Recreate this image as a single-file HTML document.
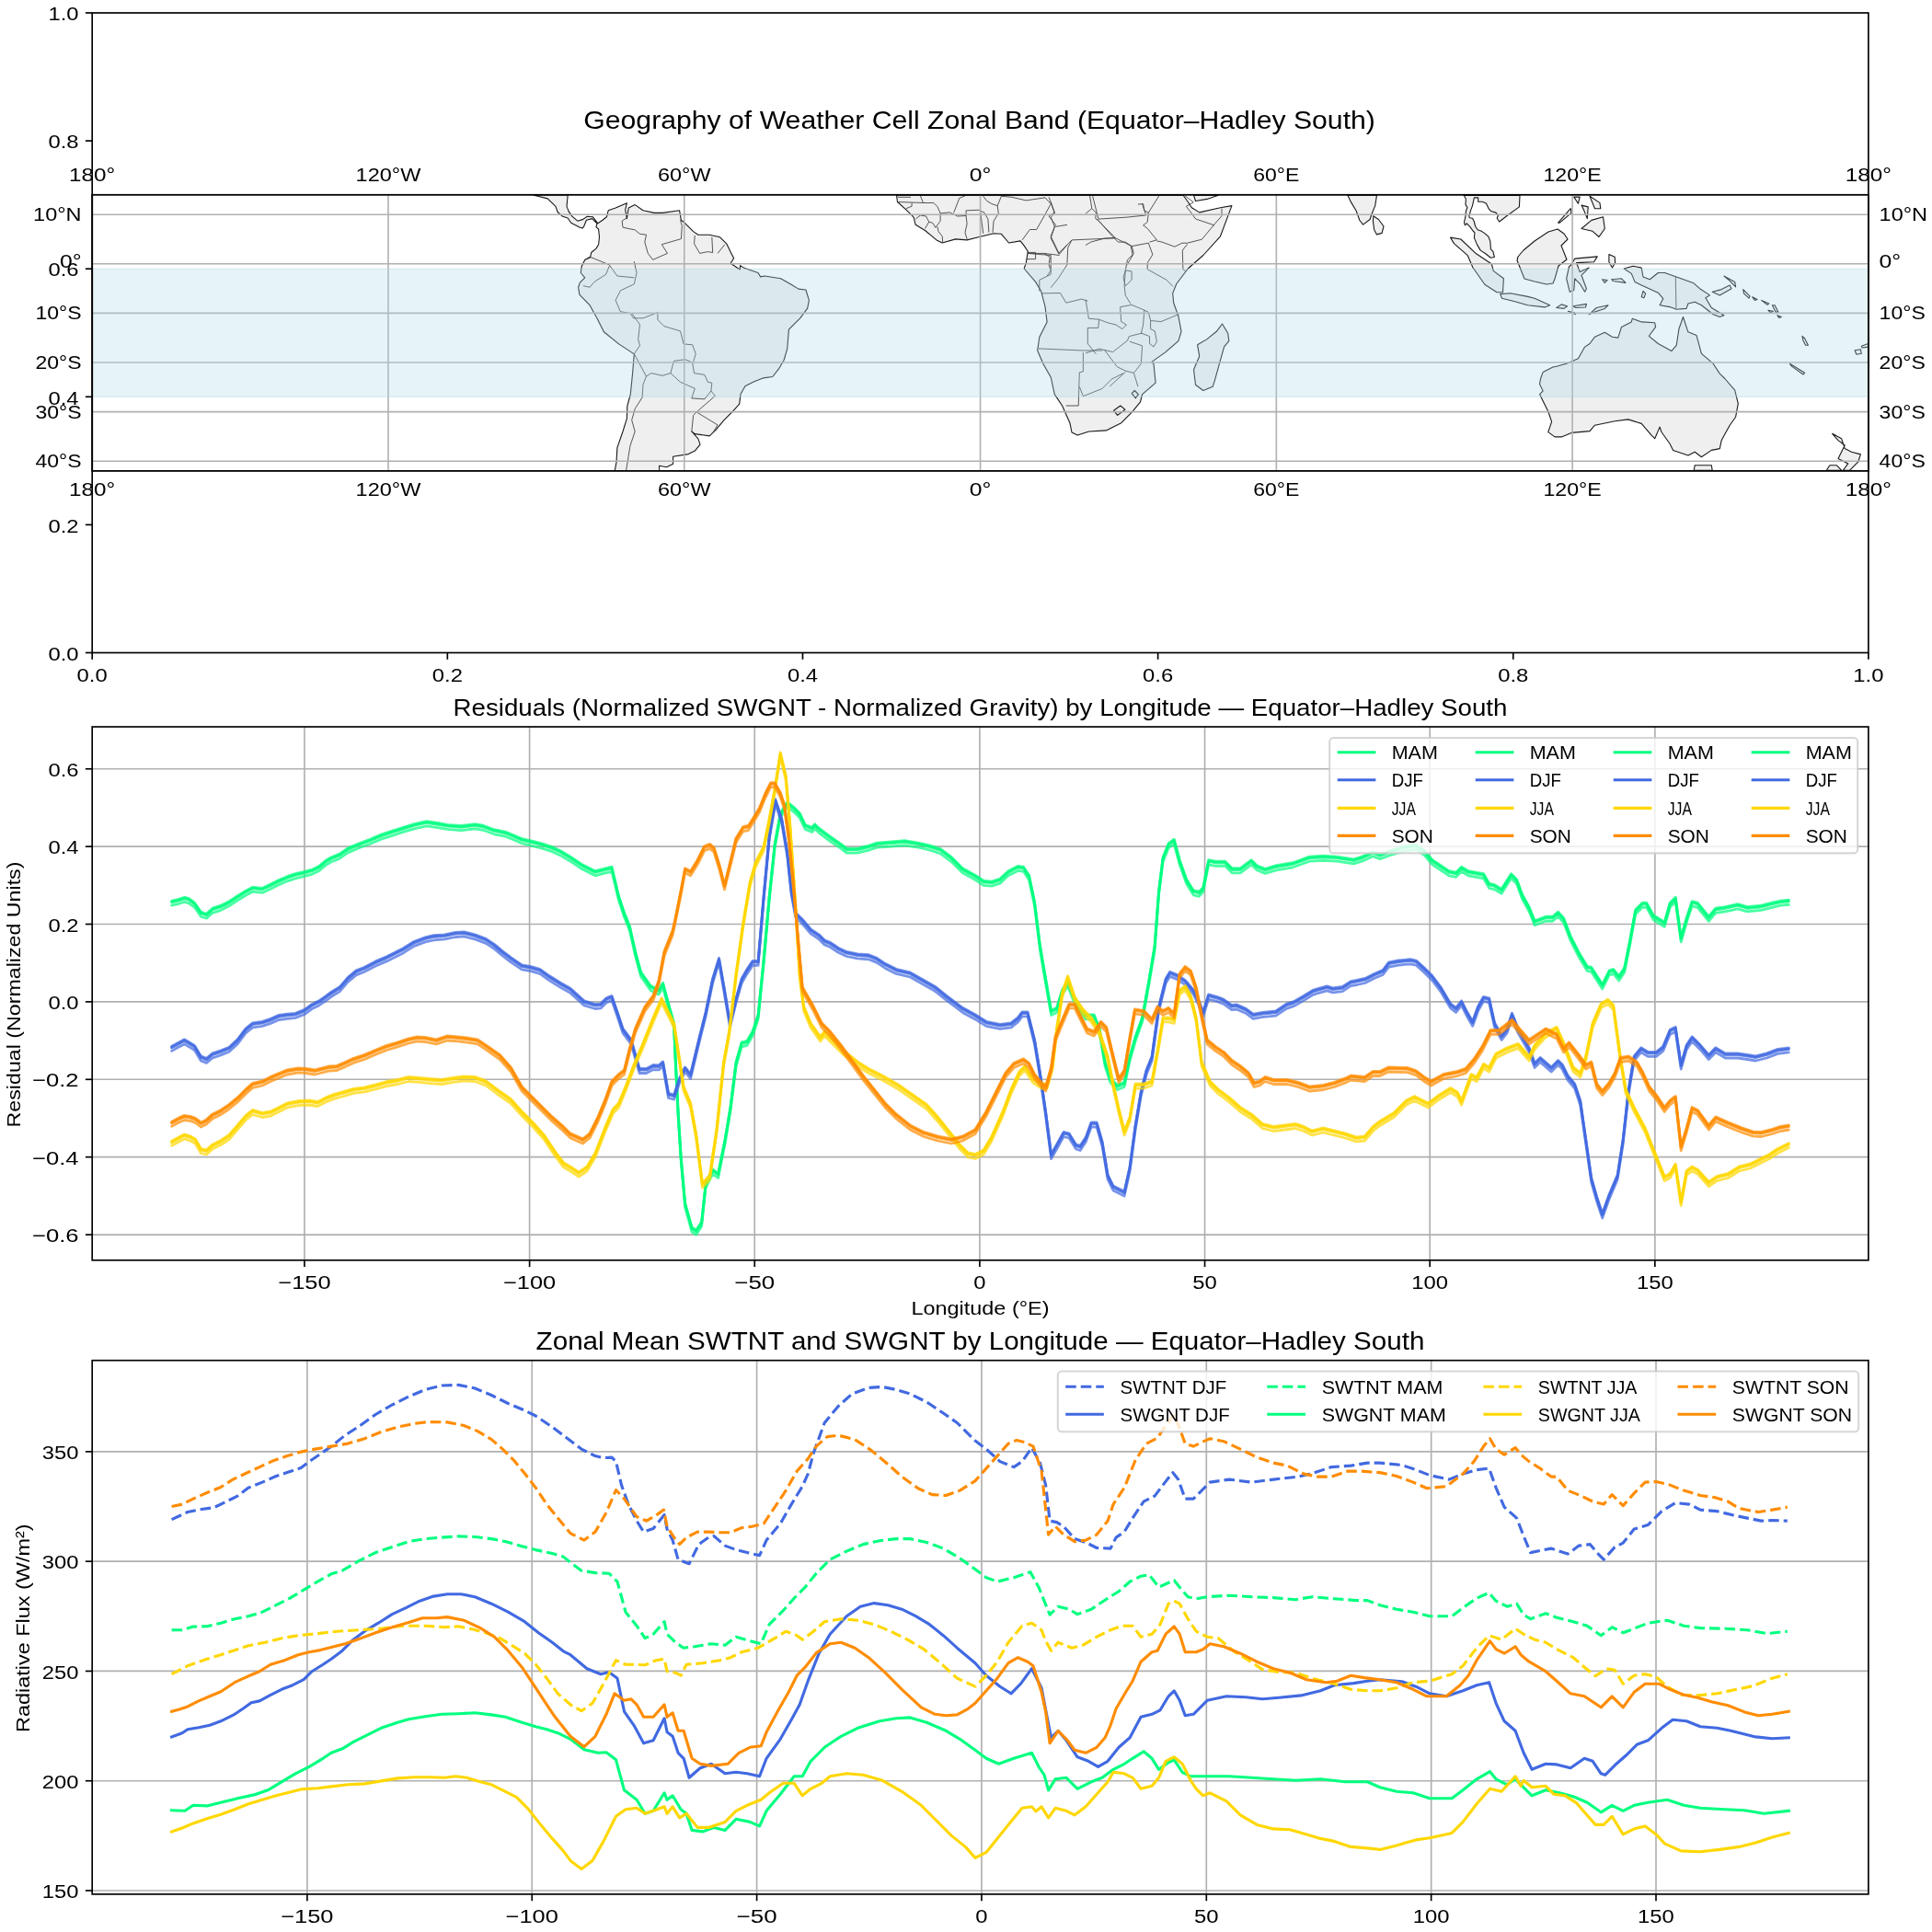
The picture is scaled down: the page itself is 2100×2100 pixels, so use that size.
<!DOCTYPE html><html><head><meta charset="utf-8"><title>Weather Cell Zonal Band</title><style>html,body{margin:0;padding:0;background:#fff;}svg{display:block;will-change:transform;}text{font-family:"Liberation Sans",sans-serif;fill:#000;}</style></head><body>
<svg width="2100" height="2100" viewBox="0 0 2100 2100">
<rect x="0" y="0" width="2100" height="2100" fill="#fff"/>
<defs><clipPath id="mapclip"><rect x="100.2" y="211.8" width="1930.7" height="300.09999999999997"/></clipPath></defs>
<g clip-path="url(#mapclip)">
<polygon points="579.4,212.0 595.2,215.9 604.0,224.4 606.1,230.5 611.0,234.9 617.2,237.0 620.7,242.3 630.4,247.2 633.0,248.1 634.8,245.8 637.4,239.3 643.6,237.6 648.9,242.8 648.0,246.9 650.6,249.0 651.5,257.8 650.6,265.7 648.0,270.1 642.7,274.5 641.8,278.9 635.7,282.4 632.2,289.5 631.3,296.5 635.7,301.8 630.4,307.1 628.6,312.3 630.0,320.3 641.0,331.7 648.9,345.8 656.4,360.7 672.6,373.9 689.3,384.9 687.6,405.6 685.3,428.5 681.8,441.7 681.4,454.9 677.0,469.0 670.9,486.6 670.0,502.4 668.2,512.1 716.6,512.1 716.6,506.3 724.5,507.7 731.6,504.2 731.6,496.3 748.3,493.6 755.3,490.1 761.0,483.1 758.9,476.9 751.8,469.0 755.3,471.6 771.2,473.9 778.2,467.2 787.0,456.7 795.8,447.9 803.7,439.1 805.0,428.5 809.9,419.7 818.7,415.3 829.3,410.9 839.8,409.5 846.9,400.3 852.1,391.5 855.7,379.2 857.4,358.1 869.7,345.8 877.7,335.2 879.4,326.4 875.9,315.0 868.0,314.1 859.2,308.8 848.6,302.7 831.0,300.0 826.6,300.9 824.0,296.5 808.1,290.9 804.6,288.6 804.3,293.0 794.1,286.3 797.6,280.7 794.9,275.4 789.7,264.8 782.6,257.8 771.2,255.2 758.9,255.2 753.6,251.6 744.8,242.8 740.4,239.3 738.6,228.8 720.1,231.4 711.3,231.4 699.0,228.8 690.2,222.6 683.2,226.1 681.4,237.6 679.7,227.9 681.4,220.8 669.1,226.1 661.2,228.8 659.4,235.8 655.0,239.3 649.8,242.8 644.5,235.8 638.3,235.3 633.9,238.4 627.8,240.2 621.6,234.9 618.1,229.6 616.0,224.4 617.2,212.0" fill="#efefef" stroke="#1a1a1a" stroke-width="1.1" stroke-linejoin="round"/>
<polygon points="974.5,212.2 975.5,219.5 984.8,227.8 993.1,236.1 995.2,244.3 1005.5,250.5 1018.0,260.9 1024.2,264.0 1038.7,259.9 1051.1,260.9 1063.5,257.8 1080.1,253.7 1088.4,254.3 1096.6,264.0 1109.1,261.9 1113.2,267.1 1117.3,273.3 1115.3,285.7 1113.2,292.0 1125.6,306.4 1131.8,316.8 1136.0,333.4 1138.1,349.9 1129.8,366.5 1127.7,381.0 1133.9,395.5 1142.2,410.0 1146.3,428.6 1154.6,441.0 1162.9,459.7 1165.0,470.0 1171.2,473.1 1183.6,469.0 1202.2,467.9 1218.8,459.7 1231.2,447.2 1239.5,436.9 1241.6,428.6 1256.1,416.2 1254.0,395.5 1251.9,393.4 1266.4,383.1 1280.9,370.6 1284.0,360.3 1280.9,343.7 1275.7,329.2 1274.7,318.9 1278.8,308.5 1291.3,292.0 1307.8,277.5 1326.5,256.8 1338.9,223.6 1326.5,225.7 1303.7,230.9 1295.4,225.7 1291.3,219.5 1286.1,212.2" fill="#efefef" stroke="#1a1a1a" stroke-width="1.1" stroke-linejoin="round"/>
<polygon points="1297.5,212.2 1299.5,218.5 1312.0,216.4 1324.4,212.2" fill="#efefef" stroke="#1a1a1a" stroke-width="1.1" stroke-linejoin="round"/>
<polygon points="1328.5,352.0 1334.7,362.3 1335.8,370.6 1330.6,376.8 1320.2,414.1 1318.2,420.3 1307.8,424.5 1299.5,418.3 1297.5,401.7 1303.7,387.2 1301.6,374.8 1312.0,368.6 1322.3,360.3" fill="#efefef" stroke="#1a1a1a" stroke-width="1.1" stroke-linejoin="round"/>
<polygon points="1464.8,212.1 1468.6,219.9 1474.2,229.2 1477.9,239.5 1481.6,244.1 1489.1,238.5 1490.9,233.0 1494.7,223.6 1496.5,212.1" fill="#efefef" stroke="#1a1a1a" stroke-width="1.1" stroke-linejoin="round"/>
<polygon points="1492.8,234.8 1498.4,238.5 1504.0,246.0 1502.1,253.4 1496.5,254.9 1493.7,249.7 1492.4,240.4" fill="#efefef" stroke="#1a1a1a" stroke-width="1.1" stroke-linejoin="round"/>
<polygon points="1591.2,212.5 1593.4,216.2 1593.0,222.4 1594.9,225.5 1593.4,229.8 1593.0,234.8 1591.5,241.6 1592.4,244.8 1594.3,242.9 1598.0,246.6 1601.1,251.0 1603.0,252.8 1602.4,258.4 1605.5,265.9 1609.2,272.1 1614.8,275.8 1620.4,280.2 1624.4,279.5 1622.9,273.3 1620.4,270.8 1619.8,262.1 1617.9,257.2 1613.5,253.4 1609.8,251.0 1606.1,249.7 1603.6,246.0 1602.4,241.0 1600.5,237.3 1597.4,236.7 1596.8,234.8 1598.6,228.6 1600.5,223.6 1602.4,214.9 1606.7,214.9 1606.7,219.3 1611.1,219.3 1615.4,221.1 1618.5,227.4 1621.0,229.8 1626.0,231.1 1628.4,234.2 1627.2,237.3 1629.7,241.0 1638.4,234.2 1651.4,224.9 1652.0,212.5" fill="#efefef" stroke="#1a1a1a" stroke-width="1.1" stroke-linejoin="round"/>
<polygon points="1576.6,258.1 1587.8,260.0 1604.6,275.8 1621.4,287.0 1623.2,294.4 1634.4,302.8 1633.5,317.7 1627.0,317.7 1613.9,309.3 1600.9,290.7 1595.3,277.7 1580.4,264.6" fill="#efefef" stroke="#1a1a1a" stroke-width="1.1" stroke-linejoin="round"/>
<polygon points="1630.7,319.6 1641.9,318.7 1660.5,322.4 1668.0,324.3 1684.7,331.7 1679.1,333.9 1660.5,331.7 1647.5,328.0 1632.5,324.3" fill="#efefef" stroke="#1a1a1a" stroke-width="1.1" stroke-linejoin="round"/>
<polygon points="1650.0,279.0 1656.0,272.0 1668.0,262.0 1683.0,252.0 1693.0,249.0 1700.0,254.0 1704.0,260.0 1697.0,267.0 1703.0,282.0 1694.0,289.0 1690.0,303.0 1688.0,308.0 1681.0,309.0 1668.0,306.0 1657.0,303.0 1653.0,293.0 1649.0,283.0" fill="#efefef" stroke="#1a1a1a" stroke-width="1.1" stroke-linejoin="round"/>
<polygon points="1690.0,398.8 1702.7,395.2 1715.4,389.8 1722.6,377.1 1728.0,373.5 1733.5,366.2 1744.3,361.2 1752.5,366.2 1758.8,367.1 1762.5,355.4 1773.3,349.9 1774.2,346.3 1784.2,349.9 1798.7,350.8 1799.6,355.4 1792.4,365.3 1802.3,373.5 1816.8,381.6 1822.2,375.3 1825.0,357.2 1829.5,344.5 1834.9,360.8 1844.0,364.4 1849.4,384.3 1862.1,395.2 1869.3,406.1 1874.8,411.5 1885.7,424.2 1889.3,438.7 1886.6,453.2 1880.2,462.2 1871.2,478.6 1869.3,487.6 1860.3,489.4 1849.4,496.7 1842.2,491.2 1834.9,494.9 1818.6,489.4 1815.0,482.2 1805.9,469.5 1804.1,464.1 1798.7,476.7 1795.1,473.1 1784.2,460.4 1769.7,455.9 1755.2,457.7 1733.5,462.2 1728.0,468.6 1708.1,470.4 1697.2,474.9 1690.0,474.9 1682.8,469.6 1686.6,458.4 1682.8,447.2 1677.2,436.0 1673.5,428.6 1677.2,424.9 1673.5,417.4 1674.5,411.8 1677.2,404.4 1688.4,398.8" fill="#efefef" stroke="#1a1a1a" stroke-width="1.1" stroke-linejoin="round"/>
<polygon points="1765.2,292.0 1775.1,289.2 1784.2,291.1 1786.0,301.0 1793.3,303.7 1802.3,296.5 1809.6,296.5 1822.2,301.0 1840.4,307.4 1847.6,313.7 1858.5,320.9 1853.9,323.7 1860.3,334.5 1873.9,342.7 1869.3,344.5 1862.1,341.8 1849.4,331.8 1842.2,328.2 1834.9,330.0 1833.1,335.4 1822.2,336.3 1815.0,333.6 1804.1,331.8 1807.8,324.6 1802.3,318.2 1784.2,310.1 1777.0,306.4 1773.3,297.4" fill="#efefef" stroke="#1a1a1a" stroke-width="1.1" stroke-linejoin="round"/>
<polygon points="1708.1,287.4 1711.7,281.1 1736.2,278.9 1732.6,284.7 1713.6,285.6 1717.2,295.6 1727.1,291.1 1719.0,299.2 1724.4,313.7 1722.6,317.3 1717.2,308.3 1711.7,302.8 1710.8,315.5 1706.3,317.3 1702.7,302.8 1705.4,290.1" fill="#efefef" stroke="#1a1a1a" stroke-width="1.1" stroke-linejoin="round"/>
<polygon points="1719.0,248.5 1729.9,239.4 1742.5,235.8 1744.3,248.5 1738.0,257.5 1730.8,251.2" fill="#efefef" stroke="#1a1a1a" stroke-width="1.1" stroke-linejoin="round"/>
<polygon points="1719.0,223.1 1726.2,224.9 1725.3,237.6 1721.7,228.6" fill="#efefef" stroke="#1a1a1a" stroke-width="1.1" stroke-linejoin="round"/>
<polygon points="1710.8,214.1 1717.2,214.1 1715.4,221.3" fill="#efefef" stroke="#1a1a1a" stroke-width="1.1" stroke-linejoin="round"/>
<polygon points="1728.0,213.2 1738.9,220.4 1739.8,226.7 1733.5,226.7" fill="#efefef" stroke="#1a1a1a" stroke-width="1.1" stroke-linejoin="round"/>
<polygon points="1693.6,242.1 1707.2,226.7 1708.1,231.3 1695.4,242.1" fill="#efefef" stroke="#1a1a1a" stroke-width="1.1" stroke-linejoin="round"/>
<polygon points="1748.9,276.6 1755.2,279.3 1755.6,285.6 1752.5,291.1 1748.9,284.7" fill="#efefef" stroke="#1a1a1a" stroke-width="1.1" stroke-linejoin="round"/>
<polygon points="1751.6,303.7 1762.5,302.8 1767.0,307.4 1753.4,305.5" fill="#efefef" stroke="#1a1a1a" stroke-width="1.1" stroke-linejoin="round"/>
<polygon points="1741.6,303.7 1747.1,304.6 1744.3,307.4" fill="#efefef" stroke="#1a1a1a" stroke-width="1.1" stroke-linejoin="round"/>
<polygon points="1727.1,341.8 1735.3,334.5 1748.0,331.8 1744.3,335.4 1733.5,339.1" fill="#efefef" stroke="#1a1a1a" stroke-width="1.1" stroke-linejoin="round"/>
<polygon points="1709.9,332.7 1724.4,330.4 1723.5,334.0 1712.6,334.5" fill="#efefef" stroke="#1a1a1a" stroke-width="1.1" stroke-linejoin="round"/>
<polygon points="1691.8,334.5 1697.2,330.9 1703.6,332.7 1700.0,335.4" fill="#efefef" stroke="#1a1a1a" stroke-width="1.1" stroke-linejoin="round"/>
<polygon points="1704.5,338.2 1711.7,340.0 1712.6,341.8" fill="#efefef" stroke="#1a1a1a" stroke-width="1.1" stroke-linejoin="round"/>
<polygon points="1784.2,322.8 1786.0,316.4 1788.7,319.1 1786.9,323.7" fill="#efefef" stroke="#1a1a1a" stroke-width="1.1" stroke-linejoin="round"/>
<polygon points="1873.9,300.1 1885.7,306.4 1886.6,311.9 1878.4,303.7" fill="#efefef" stroke="#1a1a1a" stroke-width="1.1" stroke-linejoin="round"/>
<polygon points="1861.2,317.3 1871.2,314.6 1880.2,310.1 1882.0,313.7 1869.3,320.9" fill="#efefef" stroke="#1a1a1a" stroke-width="1.1" stroke-linejoin="round"/>
<polygon points="1894.7,314.6 1902.0,321.8 1901.1,324.2 1895.6,319.1" fill="#efefef" stroke="#1a1a1a" stroke-width="1.1" stroke-linejoin="round"/>
<polygon points="1904.7,322.8 1910.1,325.5 1907.4,326.4" fill="#efefef" stroke="#1a1a1a" stroke-width="1.1" stroke-linejoin="round"/>
<polygon points="1914.6,326.4 1922.8,330.0 1921.0,331.4" fill="#efefef" stroke="#1a1a1a" stroke-width="1.1" stroke-linejoin="round"/>
<polygon points="1926.4,331.8 1929.1,331.8 1932.8,339.1 1930.0,339.1" fill="#efefef" stroke="#1a1a1a" stroke-width="1.1" stroke-linejoin="round"/>
<polygon points="1921.9,337.2 1927.3,338.2 1924.6,340.0" fill="#efefef" stroke="#1a1a1a" stroke-width="1.1" stroke-linejoin="round"/>
<polygon points="1931.8,342.7 1936.4,344.5 1933.7,345.4" fill="#efefef" stroke="#1a1a1a" stroke-width="1.1" stroke-linejoin="round"/>
<polygon points="1959.0,365.3 1961.7,368.0 1965.4,375.3 1962.6,375.3 1959.9,369.9" fill="#efefef" stroke="#1a1a1a" stroke-width="1.1" stroke-linejoin="round"/>
<polygon points="1945.4,395.2 1961.7,405.2 1959.9,407.0 1947.2,397.9" fill="#efefef" stroke="#1a1a1a" stroke-width="1.1" stroke-linejoin="round"/>
<polygon points="2016.1,380.7 2022.4,379.8 2023.3,384.3 2017.9,385.3" fill="#efefef" stroke="#1a1a1a" stroke-width="1.1" stroke-linejoin="round"/>
<polygon points="2023.3,376.2 2030.6,373.5 2030.6,377.1 2024.2,378.0" fill="#efefef" stroke="#1a1a1a" stroke-width="1.1" stroke-linejoin="round"/>
<polygon points="1991.6,471.3 2001.6,476.7 2005.2,487.6 2012.5,491.2 2022.4,493.9 2019.7,502.1 2016.1,505.7 2010.7,511.2 2003.4,511.2 2008.8,503.9 1998.0,498.5 2005.2,484.0 1998.0,478.6" fill="#efefef" stroke="#1a1a1a" stroke-width="1.1" stroke-linejoin="round"/>
<polygon points="1985.3,511.2 1988.9,505.7 1996.2,505.7 2001.6,511.2" fill="#efefef" stroke="#1a1a1a" stroke-width="1.1" stroke-linejoin="round"/>
<polygon points="1841.3,511.2 1842.2,505.7 1860.3,505.7 1861.2,511.2" fill="#efefef" stroke="#1a1a1a" stroke-width="1.1" stroke-linejoin="round"/>
<polygon points="1210.5,446.2 1217.8,441.0 1222.9,445.2 1214.7,451.4" fill="#efefef" stroke="#1a1a1a" stroke-width="1.1" stroke-linejoin="round"/>
<polygon points="1230.2,427.6 1233.3,424.5 1237.4,428.6 1234.3,432.7" fill="#efefef" stroke="#1a1a1a" stroke-width="1.1" stroke-linejoin="round"/>
<polyline points="1180.0,266.5 1185.7,263.1 1200.5,259.1 1211.9,258.5" fill="none" stroke="#3a3a3a" stroke-width="0.85" stroke-linejoin="round"/>
<polyline points="1184.6,213.0 1186.8,226.6 1191.4,231.2 1190.8,237.5 1194.8,240.3 1208.5,256.2 1215.3,263.1 1223.3,263.1 1230.1,267.6 1248.3,264.2" fill="none" stroke="#3a3a3a" stroke-width="0.85" stroke-linejoin="round"/>
<polyline points="1180.0,232.3 1186.8,226.6" fill="none" stroke="#3a3a3a" stroke-width="0.85" stroke-linejoin="round"/>
<polyline points="1248.3,231.2 1247.2,241.4 1242.6,244.9 1247.2,248.3 1257.4,260.8 1249.5,263.1" fill="none" stroke="#3a3a3a" stroke-width="0.85" stroke-linejoin="round"/>
<polyline points="1236.9,222.1 1242.6,221.5 1243.8,228.9 1248.3,231.2 1259.7,213.0" fill="none" stroke="#3a3a3a" stroke-width="0.85" stroke-linejoin="round"/>
<polyline points="1248.3,264.2 1252.9,276.7 1247.2,285.8 1247.2,292.7" fill="none" stroke="#3a3a3a" stroke-width="0.85" stroke-linejoin="round"/>
<polyline points="1230.1,267.6 1232.4,275.6 1225.5,282.4 1223.3,293.8" fill="none" stroke="#3a3a3a" stroke-width="0.85" stroke-linejoin="round"/>
<polyline points="1257.4,261.9 1263.1,263.1 1276.8,268.2 1284.8,264.2 1290.5,264.2 1306.4,260.2 1320.1,243.7" fill="none" stroke="#3a3a3a" stroke-width="0.85" stroke-linejoin="round"/>
<polyline points="1290.5,265.4 1285.3,272.2 1285.9,292.7 1288.7,295.0" fill="none" stroke="#3a3a3a" stroke-width="0.85" stroke-linejoin="round"/>
<polyline points="1247.2,292.7 1267.7,304.1 1275.1,311.5" fill="none" stroke="#3a3a3a" stroke-width="0.85" stroke-linejoin="round"/>
<polyline points="1223.3,293.8 1222.1,310.9 1223.3,321.1 1229.0,330.3" fill="none" stroke="#3a3a3a" stroke-width="0.85" stroke-linejoin="round"/>
<polyline points="1250.6,348.5 1262.0,349.6 1281.3,341.6" fill="none" stroke="#3a3a3a" stroke-width="0.85" stroke-linejoin="round"/>
<polyline points="1217.6,333.7 1230.1,331.4 1243.8,337.1 1248.3,339.4 1250.6,348.5" fill="none" stroke="#3a3a3a" stroke-width="0.85" stroke-linejoin="round"/>
<polyline points="1243.8,337.1 1242.6,353.0 1240.4,362.1 1249.5,365.6 1249.5,373.5 1254.0,376.9 1257.4,371.2 1255.2,359.9 1250.6,357.6 1250.6,348.5" fill="none" stroke="#3a3a3a" stroke-width="0.85" stroke-linejoin="round"/>
<polyline points="1293.9,230.1 1299.6,238.0 1320.1,244.9" fill="none" stroke="#3a3a3a" stroke-width="0.85" stroke-linejoin="round"/>
<polyline points="1288.2,213.0 1297.3,219.8 1289.3,224.4 1293.9,230.1" fill="none" stroke="#3a3a3a" stroke-width="0.85" stroke-linejoin="round"/>
<polyline points="1180.0,325.7 1183.4,346.2 1194.8,347.3 1203.9,350.8 1213.0,353.0 1219.9,357.6 1224.4,353.0 1218.7,349.6 1217.6,333.7" fill="none" stroke="#3a3a3a" stroke-width="0.85" stroke-linejoin="round"/>
<polyline points="1194.8,347.3 1193.7,356.4 1182.3,356.4 1182.3,373.5 1191.4,384.9" fill="none" stroke="#3a3a3a" stroke-width="0.85" stroke-linejoin="round"/>
<polyline points="1180.0,383.8 1194.8,379.2 1209.6,382.6 1225.5,370.1 1227.3,365.6 1241.5,362.1" fill="none" stroke="#3a3a3a" stroke-width="0.85" stroke-linejoin="round"/>
<polyline points="1227.8,371.2 1241.5,375.8 1240.4,395.2 1232.4,405.4" fill="none" stroke="#3a3a3a" stroke-width="0.85" stroke-linejoin="round"/>
<polyline points="1200.5,380.4 1214.2,398.6 1223.3,403.1 1232.4,405.4 1236.9,420.0" fill="none" stroke="#3a3a3a" stroke-width="0.85" stroke-linejoin="round"/>
<polyline points="1206.2,420.0 1223.3,404.3" fill="none" stroke="#3a3a3a" stroke-width="0.85" stroke-linejoin="round"/>
<polyline points="1223.3,293.8 1230.1,295.0 1230.1,304.1 1223.3,310.9 1221.0,301.8 1223.3,293.8" fill="none" stroke="#3a3a3a" stroke-width="0.85" stroke-linejoin="round"/>
<polyline points="1328.0,226.6 1328.0,234.6 1320.1,243.7" fill="none" stroke="#3a3a3a" stroke-width="0.85" stroke-linejoin="round"/>
<polyline points="975.5,214.3 990.0,214.3" fill="none" stroke="#3a3a3a" stroke-width="0.85" stroke-linejoin="round"/>
<polyline points="976.6,219.5 1003.5,220.5 1014.9,220.5 1019.0,224.7 1022.1,231.9" fill="none" stroke="#3a3a3a" stroke-width="0.85" stroke-linejoin="round"/>
<polyline points="1000.4,212.8 1003.5,220.5" fill="none" stroke="#3a3a3a" stroke-width="0.85" stroke-linejoin="round"/>
<polyline points="984.8,226.7 991.1,224.2 991.1,220.5" fill="none" stroke="#3a3a3a" stroke-width="0.85" stroke-linejoin="round"/>
<polyline points="995.2,238.1 1000.4,234.0 1006.6,235.0 1009.7,241.2 1005.5,248.5" fill="none" stroke="#3a3a3a" stroke-width="0.85" stroke-linejoin="round"/>
<polyline points="1009.7,241.2 1013.8,242.3 1016.9,247.4 1022.1,240.2 1022.1,231.9" fill="none" stroke="#3a3a3a" stroke-width="0.85" stroke-linejoin="round"/>
<polyline points="1019.0,246.4 1020.0,251.6 1024.2,256.8 1024.7,263.0" fill="none" stroke="#3a3a3a" stroke-width="0.85" stroke-linejoin="round"/>
<polyline points="1022.1,231.9 1032.5,230.9 1040.7,235.0 1050.1,234.5 1051.1,243.3 1049.0,252.6 1051.1,259.9" fill="none" stroke="#3a3a3a" stroke-width="0.85" stroke-linejoin="round"/>
<polyline points="1036.6,231.4 1042.8,215.4 1049.0,212.8" fill="none" stroke="#3a3a3a" stroke-width="0.85" stroke-linejoin="round"/>
<polyline points="1050.1,234.5 1050.1,228.8 1063.5,228.3 1069.7,230.9 1073.9,238.1 1074.9,252.6" fill="none" stroke="#3a3a3a" stroke-width="0.85" stroke-linejoin="round"/>
<polyline points="1065.6,229.8 1068.7,253.7" fill="none" stroke="#3a3a3a" stroke-width="0.85" stroke-linejoin="round"/>
<polyline points="1079.0,252.6 1080.1,240.2 1085.3,231.9 1084.2,223.6 1078.0,221.6 1072.8,218.5 1068.7,213.3" fill="none" stroke="#3a3a3a" stroke-width="0.85" stroke-linejoin="round"/>
<polyline points="1084.2,223.6 1088.4,213.3" fill="none" stroke="#3a3a3a" stroke-width="0.85" stroke-linejoin="round"/>
<polyline points="1088.4,213.3 1099.8,214.3 1115.3,217.9 1136.0,214.8 1142.2,221.6" fill="none" stroke="#3a3a3a" stroke-width="0.85" stroke-linejoin="round"/>
<polyline points="1142.2,221.6 1136.0,233.0 1126.7,249.5 1119.4,249.5 1111.1,260.9" fill="none" stroke="#3a3a3a" stroke-width="0.85" stroke-linejoin="round"/>
<polyline points="1140.1,214.3 1146.3,230.9 1140.1,235.0 1147.4,244.3 1142.2,256.8 1151.5,276.4" fill="none" stroke="#3a3a3a" stroke-width="0.85" stroke-linejoin="round"/>
<polyline points="1147.4,246.4 1160.0,244.3" fill="none" stroke="#3a3a3a" stroke-width="0.85" stroke-linejoin="round"/>
<polyline points="1116.3,274.4 1125.6,274.4 1125.6,281.6 1115.8,281.6" fill="none" stroke="#3a3a3a" stroke-width="0.85" stroke-linejoin="round"/>
<polyline points="1117.3,275.4 1134.9,275.4 1151.5,277.5" fill="none" stroke="#3a3a3a" stroke-width="0.85" stroke-linejoin="round"/>
<polyline points="1134.9,275.4 1141.2,279.5 1140.1,287.8 1142.2,294.0 1138.1,300.0" fill="none" stroke="#3a3a3a" stroke-width="0.85" stroke-linejoin="round"/>
<polyline points="1151.5,276.4 1160.0,266.1" fill="none" stroke="#3a3a3a" stroke-width="0.85" stroke-linejoin="round"/>
<polyline points="1117.3,275.4 1142.2,277.5 1142.2,298.2 1129.8,304.4 1129.8,316.8" fill="none" stroke="#3a3a3a" stroke-width="0.85" stroke-linejoin="round"/>
<polyline points="1131.8,318.9 1152.5,318.5 1158.8,329.2 1175.3,325.1 1182.6,327.2" fill="none" stroke="#3a3a3a" stroke-width="0.85" stroke-linejoin="round"/>
<polyline points="1165.0,260.9 1160.8,269.2 1159.8,287.8 1150.5,302.3 1142.2,312.7" fill="none" stroke="#3a3a3a" stroke-width="0.85" stroke-linejoin="round"/>
<polyline points="1128.7,378.9 1177.4,381.0 1198.1,381.0" fill="none" stroke="#3a3a3a" stroke-width="0.85" stroke-linejoin="round"/>
<polyline points="1177.4,383.1 1177.4,403.8 1173.3,404.8 1172.2,441.0 1158.8,441.0" fill="none" stroke="#3a3a3a" stroke-width="0.85" stroke-linejoin="round"/>
<polyline points="1173.3,420.3 1177.4,430.7 1198.1,422.4 1208.4,412.0 1220.9,405.8" fill="none" stroke="#3a3a3a" stroke-width="0.85" stroke-linejoin="round"/>
<polyline points="1142.2,219.5 1146.3,231.9 1142.2,236.1 1146.3,246.4 1142.2,258.8 1150.5,275.4 1154.6,271.3 1165.0,260.9 1212.6,258.8 1229.2,267.1 1231.2,277.5 1225.0,287.8" fill="none" stroke="#3a3a3a" stroke-width="0.85" stroke-linejoin="round"/>
<polyline points="1187.7,213.3 1194.0,238.1 1225.0,236.1 1245.7,234.0 1241.6,221.6" fill="none" stroke="#3a3a3a" stroke-width="0.85" stroke-linejoin="round"/>
<polyline points="1191.9,238.1 1212.6,258.8" fill="none" stroke="#3a3a3a" stroke-width="0.85" stroke-linejoin="round"/>
<polyline points="681.4,236.7 676.1,240.2 677.0,247.2 690.2,249.9 695.5,254.3 702.5,255.2 700.8,263.1 704.3,275.4 709.6,282.4 725.4,275.4 719.3,265.7 740.4,259.6 741.3,245.5 739.5,239.3" fill="none" stroke="#3a3a3a" stroke-width="0.85" stroke-linejoin="round"/>
<polyline points="755.3,256.0 754.5,264.8 760.6,275.4 769.4,273.6 774.7,274.5 773.8,257.8" fill="none" stroke="#3a3a3a" stroke-width="0.85" stroke-linejoin="round"/>
<polyline points="780.0,275.4 787.9,265.7" fill="none" stroke="#3a3a3a" stroke-width="0.85" stroke-linejoin="round"/>
<polyline points="689.3,284.2 692.0,296.5 689.3,308.8 674.4,315.9 669.1,326.4 674.4,338.7 684.9,340.5 688.5,345.8 699.0,345.8 714.9,339.6 714.9,347.5 721.9,354.6 739.5,359.9 743.0,373.9 752.7,374.8 756.2,384.5 753.6,393.3" fill="none" stroke="#3a3a3a" stroke-width="0.85" stroke-linejoin="round"/>
<polyline points="635.7,282.4 642.7,279.8 656.8,285.6 662.1,287.7 670.9,300.0 689.3,301.8" fill="none" stroke="#3a3a3a" stroke-width="0.85" stroke-linejoin="round"/>
<polyline points="662.1,289.5 658.6,298.3 646.2,306.2 641.0,312.3 633.9,310.6" fill="none" stroke="#3a3a3a" stroke-width="0.85" stroke-linejoin="round"/>
<polyline points="686.7,340.5 695.5,352.8 693.7,368.7 695.5,375.7 689.3,384.5" fill="none" stroke="#3a3a3a" stroke-width="0.85" stroke-linejoin="round"/>
<polyline points="689.3,384.5 702.5,409.1 699.0,417.9 698.1,432.0 690.2,444.3 686.7,456.7 690.2,469.0 684.9,484.8 683.2,495.4 680.5,512.1" fill="none" stroke="#3a3a3a" stroke-width="0.85" stroke-linejoin="round"/>
<polyline points="702.5,409.1 707.8,405.6 720.1,408.3 728.9,405.6 732.5,392.4 744.8,390.7 752.7,394.2 754.5,405.6 765.9,407.4 769.4,415.3 773.8,416.2 772.9,425.0 777.3,430.3 757.1,447.9 780.0,461.9 774.7,470.7" fill="none" stroke="#3a3a3a" stroke-width="0.85" stroke-linejoin="round"/>
<polyline points="728.9,405.6 739.5,415.3 755.3,422.3 751.8,432.9 765.9,433.8 772.9,425.0" fill="none" stroke="#3a3a3a" stroke-width="0.85" stroke-linejoin="round"/>
<polyline points="757.1,447.9 753.6,451.4 751.8,469.0" fill="none" stroke="#3a3a3a" stroke-width="0.85" stroke-linejoin="round"/>
<polyline points="1821.3,301.0 1821.9,335.4" fill="none" stroke="#3a3a3a" stroke-width="0.85" stroke-linejoin="round"/>
<line x1="421.98" y1="211.8" x2="421.98" y2="511.9" stroke="#b0b0b0" stroke-width="1.6"/>
<line x1="743.77" y1="211.8" x2="743.77" y2="511.9" stroke="#b0b0b0" stroke-width="1.6"/>
<line x1="1065.55" y1="211.8" x2="1065.55" y2="511.9" stroke="#b0b0b0" stroke-width="1.6"/>
<line x1="1387.33" y1="211.8" x2="1387.33" y2="511.9" stroke="#b0b0b0" stroke-width="1.6"/>
<line x1="1709.12" y1="211.8" x2="1709.12" y2="511.9" stroke="#b0b0b0" stroke-width="1.6"/>
<line x1="100.2" y1="233.24" x2="2030.9" y2="233.24" stroke="#b0b0b0" stroke-width="1.6"/>
<line x1="100.2" y1="286.82" x2="2030.9" y2="286.82" stroke="#b0b0b0" stroke-width="1.6"/>
<line x1="100.2" y1="340.41" x2="2030.9" y2="340.41" stroke="#b0b0b0" stroke-width="1.6"/>
<line x1="100.2" y1="394.00" x2="2030.9" y2="394.00" stroke="#b0b0b0" stroke-width="1.6"/>
<line x1="100.2" y1="447.59" x2="2030.9" y2="447.59" stroke="#b0b0b0" stroke-width="1.6"/>
<line x1="100.2" y1="501.18" x2="2030.9" y2="501.18" stroke="#b0b0b0" stroke-width="1.6"/>
</g>
<rect x="100.2" y="292.20" width="1930.70" height="139.10" fill="#add8e6" fill-opacity="0.3" stroke="#add8e6" stroke-opacity="0.35" stroke-width="1.5"/>
<rect x="100.2" y="211.8" width="1930.70" height="300.10" fill="none" stroke="#000" stroke-width="1.8"/>
<text x="100.20" y="197.30" font-size="20.83" text-anchor="middle" textLength="50.18" lengthAdjust="spacingAndGlyphs">180°</text>
<text x="100.20" y="538.90" font-size="20.83" text-anchor="middle" textLength="50.18" lengthAdjust="spacingAndGlyphs">180°</text>
<text x="421.98" y="197.30" font-size="20.83" text-anchor="middle" textLength="70.78" lengthAdjust="spacingAndGlyphs">120°W</text>
<text x="421.98" y="538.90" font-size="20.83" text-anchor="middle" textLength="70.78" lengthAdjust="spacingAndGlyphs">120°W</text>
<text x="743.77" y="197.30" font-size="20.83" text-anchor="middle" textLength="57.53" lengthAdjust="spacingAndGlyphs">60°W</text>
<text x="743.77" y="538.90" font-size="20.83" text-anchor="middle" textLength="57.53" lengthAdjust="spacingAndGlyphs">60°W</text>
<text x="1065.55" y="197.30" font-size="20.83" text-anchor="middle" textLength="23.67" lengthAdjust="spacingAndGlyphs">0°</text>
<text x="1065.55" y="538.90" font-size="20.83" text-anchor="middle" textLength="23.67" lengthAdjust="spacingAndGlyphs">0°</text>
<text x="1387.33" y="197.30" font-size="20.83" text-anchor="middle" textLength="50.09" lengthAdjust="spacingAndGlyphs">60°E</text>
<text x="1387.33" y="538.90" font-size="20.83" text-anchor="middle" textLength="50.09" lengthAdjust="spacingAndGlyphs">60°E</text>
<text x="1709.12" y="197.30" font-size="20.83" text-anchor="middle" textLength="63.34" lengthAdjust="spacingAndGlyphs">120°E</text>
<text x="1709.12" y="538.90" font-size="20.83" text-anchor="middle" textLength="63.34" lengthAdjust="spacingAndGlyphs">120°E</text>
<text x="2030.90" y="197.30" font-size="20.83" text-anchor="middle" textLength="50.18" lengthAdjust="spacingAndGlyphs">180°</text>
<text x="2030.90" y="538.90" font-size="20.83" text-anchor="middle" textLength="50.18" lengthAdjust="spacingAndGlyphs">180°</text>
<text x="88.60" y="240.24" font-size="20.83" text-anchor="end" textLength="52.51" lengthAdjust="spacingAndGlyphs">10°N</text>
<text x="2042.60" y="240.24" font-size="20.83" text-anchor="start" textLength="52.51" lengthAdjust="spacingAndGlyphs">10°N</text>
<text x="88.60" y="290.82" font-size="20.83" text-anchor="end" textLength="23.67" lengthAdjust="spacingAndGlyphs">0°</text>
<text x="2042.60" y="290.82" font-size="20.83" text-anchor="start" textLength="23.67" lengthAdjust="spacingAndGlyphs">0°</text>
<text x="88.60" y="347.41" font-size="20.83" text-anchor="end" textLength="50.15" lengthAdjust="spacingAndGlyphs">10°S</text>
<text x="2042.60" y="347.41" font-size="20.83" text-anchor="start" textLength="50.15" lengthAdjust="spacingAndGlyphs">10°S</text>
<text x="88.60" y="401.00" font-size="20.83" text-anchor="end" textLength="50.15" lengthAdjust="spacingAndGlyphs">20°S</text>
<text x="2042.60" y="401.00" font-size="20.83" text-anchor="start" textLength="50.15" lengthAdjust="spacingAndGlyphs">20°S</text>
<text x="88.60" y="454.59" font-size="20.83" text-anchor="end" textLength="50.15" lengthAdjust="spacingAndGlyphs">30°S</text>
<text x="2042.60" y="454.59" font-size="20.83" text-anchor="start" textLength="50.15" lengthAdjust="spacingAndGlyphs">30°S</text>
<text x="88.60" y="508.18" font-size="20.83" text-anchor="end" textLength="50.15" lengthAdjust="spacingAndGlyphs">40°S</text>
<text x="2042.60" y="508.18" font-size="20.83" text-anchor="start" textLength="50.15" lengthAdjust="spacingAndGlyphs">40°S</text>
<text x="1064.60" y="139.60" font-size="27.08" text-anchor="middle" textLength="860.64" lengthAdjust="spacingAndGlyphs">Geography of Weather Cell Zonal Band (Equator–Hadley South)</text>
<rect x="100.2" y="14.0" width="1930.70" height="695.50" fill="none" stroke="#000" stroke-width="1.67"/>
<line x1="92.90" y1="709.50" x2="100.2" y2="709.50" stroke="#000" stroke-width="1.67"/>
<line x1="100.20" y1="709.5" x2="100.20" y2="716.80" stroke="#000" stroke-width="1.67"/>
<text x="85.60" y="717.70" font-size="20.83" text-anchor="end" textLength="33.13" lengthAdjust="spacingAndGlyphs">0.0</text>
<text x="100.20" y="741.00" font-size="20.83" text-anchor="middle" textLength="33.13" lengthAdjust="spacingAndGlyphs">0.0</text>
<line x1="92.90" y1="570.40" x2="100.2" y2="570.40" stroke="#000" stroke-width="1.67"/>
<line x1="486.34" y1="709.5" x2="486.34" y2="716.80" stroke="#000" stroke-width="1.67"/>
<text x="85.60" y="578.60" font-size="20.83" text-anchor="end" textLength="33.13" lengthAdjust="spacingAndGlyphs">0.2</text>
<text x="486.34" y="741.00" font-size="20.83" text-anchor="middle" textLength="33.13" lengthAdjust="spacingAndGlyphs">0.2</text>
<line x1="92.90" y1="431.30" x2="100.2" y2="431.30" stroke="#000" stroke-width="1.67"/>
<line x1="872.48" y1="709.5" x2="872.48" y2="716.80" stroke="#000" stroke-width="1.67"/>
<text x="85.60" y="439.50" font-size="20.83" text-anchor="end" textLength="33.13" lengthAdjust="spacingAndGlyphs">0.4</text>
<text x="872.48" y="741.00" font-size="20.83" text-anchor="middle" textLength="33.13" lengthAdjust="spacingAndGlyphs">0.4</text>
<line x1="92.90" y1="292.20" x2="100.2" y2="292.20" stroke="#000" stroke-width="1.67"/>
<line x1="1258.62" y1="709.5" x2="1258.62" y2="716.80" stroke="#000" stroke-width="1.67"/>
<text x="85.60" y="300.40" font-size="20.83" text-anchor="end" textLength="33.13" lengthAdjust="spacingAndGlyphs">0.6</text>
<text x="1258.62" y="741.00" font-size="20.83" text-anchor="middle" textLength="33.13" lengthAdjust="spacingAndGlyphs">0.6</text>
<line x1="92.90" y1="153.10" x2="100.2" y2="153.10" stroke="#000" stroke-width="1.67"/>
<line x1="1644.76" y1="709.5" x2="1644.76" y2="716.80" stroke="#000" stroke-width="1.67"/>
<text x="85.60" y="161.30" font-size="20.83" text-anchor="end" textLength="33.13" lengthAdjust="spacingAndGlyphs">0.8</text>
<text x="1644.76" y="741.00" font-size="20.83" text-anchor="middle" textLength="33.13" lengthAdjust="spacingAndGlyphs">0.8</text>
<line x1="92.90" y1="14.00" x2="100.2" y2="14.00" stroke="#000" stroke-width="1.67"/>
<line x1="2030.90" y1="709.5" x2="2030.90" y2="716.80" stroke="#000" stroke-width="1.67"/>
<text x="85.60" y="22.20" font-size="20.83" text-anchor="end" textLength="33.13" lengthAdjust="spacingAndGlyphs">1.0</text>
<text x="2030.90" y="741.00" font-size="20.83" text-anchor="middle" textLength="33.13" lengthAdjust="spacingAndGlyphs">1.0</text>
<defs><clipPath id="midclip"><rect x="100.2" y="790.0" width="1930.70" height="579.80"/></clipPath><clipPath id="botclip"><rect x="100.2" y="1478.7" width="1930.70" height="580.20"/></clipPath></defs>
<line x1="330.95" y1="790.0" x2="330.95" y2="1369.8" stroke="#b0b0b0" stroke-width="1.67"/>
<line x1="575.60" y1="790.0" x2="575.60" y2="1369.8" stroke="#b0b0b0" stroke-width="1.67"/>
<line x1="820.25" y1="790.0" x2="820.25" y2="1369.8" stroke="#b0b0b0" stroke-width="1.67"/>
<line x1="1064.90" y1="790.0" x2="1064.90" y2="1369.8" stroke="#b0b0b0" stroke-width="1.67"/>
<line x1="1309.55" y1="790.0" x2="1309.55" y2="1369.8" stroke="#b0b0b0" stroke-width="1.67"/>
<line x1="1554.20" y1="790.0" x2="1554.20" y2="1369.8" stroke="#b0b0b0" stroke-width="1.67"/>
<line x1="1798.85" y1="790.0" x2="1798.85" y2="1369.8" stroke="#b0b0b0" stroke-width="1.67"/>
<line x1="100.2" y1="1342.04" x2="2030.9" y2="1342.04" stroke="#b0b0b0" stroke-width="1.67"/>
<line x1="100.2" y1="1257.66" x2="2030.9" y2="1257.66" stroke="#b0b0b0" stroke-width="1.67"/>
<line x1="100.2" y1="1173.28" x2="2030.9" y2="1173.28" stroke="#b0b0b0" stroke-width="1.67"/>
<line x1="100.2" y1="1088.90" x2="2030.9" y2="1088.90" stroke="#b0b0b0" stroke-width="1.67"/>
<line x1="100.2" y1="1004.52" x2="2030.9" y2="1004.52" stroke="#b0b0b0" stroke-width="1.67"/>
<line x1="100.2" y1="920.14" x2="2030.9" y2="920.14" stroke="#b0b0b0" stroke-width="1.67"/>
<line x1="100.2" y1="835.76" x2="2030.9" y2="835.76" stroke="#b0b0b0" stroke-width="1.67"/>
<g clip-path="url(#midclip)" fill="none" stroke-linejoin="round" stroke-linecap="round">
<path d="M186.6,979.1 L193.5,977.6 L200.4,975.2 L205.5,976.7 L211.5,981.2 L218.4,991.1 L224.4,993.2 L231.0,987.2 L240.0,984.2 L249.0,979.7 L258.1,973.7 L267.1,968.3 L274.6,964.1 L285.1,965.3 L294.1,961.1 L303.1,956.6 L312.1,952.7 L321.1,949.7 L331.0,947.3 L339.1,945.2 L346.6,941.6 L354.1,935.3 L360.1,931.7 L369.1,928.1 L378.1,921.8 L390.1,916.7 L402.2,912.2 L414.2,907.1 L426.2,903.2 L438.2,899.3 L450.2,895.7 L463.7,892.7 L474.2,894.2 L486.2,896.3 L501.2,897.5 L516.2,895.7 L525.2,897.2 L537.3,901.7 L549.3,904.1 L558.3,907.7 L567.3,911.6 L576.3,913.7 L588.3,916.7 L600.3,920.6 L609.3,924.8 L620.0,931.1 L632.0,939.2 L647.0,946.7 L656.0,944.3 L665.0,942.2 L672.5,973.7 L678.5,991.7 L684.5,1006.8 L690.5,1033.8 L696.6,1056.3 L707.1,1071.3 L716.1,1075.8 L720.6,1068.3 L726.6,1090.8 L732.6,1111.8 L734.1,1147.9 L737.1,1207.9 L740.1,1255.9 L744.6,1307.0 L752.1,1334.0 L756.6,1337.0 L762.6,1328.0 L767.1,1285.9 L774.6,1270.9 L780.6,1275.4 L788.1,1237.9 L794.1,1201.9 L800.1,1153.9 L806.1,1132.8 L812.1,1131.3 L818.1,1120.8 L824.1,1102.8 L830.1,1042.8 L836.2,973.7 L842.2,916.7 L848.2,883.7 L855.7,871.7 L863.2,877.7 L869.2,883.7 L875.2,896.3 L882.7,899.3 L885.7,895.7 L890.2,900.2 L902.2,909.2 L914.2,917.3 L920.2,922.1 L932.2,922.1 L944.2,919.1 L953.2,916.1 L965.2,915.2 L983.3,913.7 L998.3,916.1 L1010.3,918.8 L1022.3,922.7 L1034.3,931.7 L1046.3,943.7 L1060.0,951.2 L1069.0,957.2 L1078.0,958.1 L1087.0,955.1 L1096.0,946.7 L1106.5,941.3 L1112.5,942.2 L1118.5,951.2 L1124.5,979.7 L1130.5,1027.8 L1136.6,1063.8 L1142.6,1098.3 L1148.6,1095.3 L1154.6,1075.8 L1160.6,1066.8 L1166.6,1081.8 L1174.1,1095.3 L1180.1,1102.8 L1189.1,1102.8 L1195.1,1117.8 L1201.1,1153.9 L1207.1,1171.9 L1214.6,1179.4 L1222.1,1176.4 L1228.1,1147.9 L1234.1,1126.8 L1241.6,1105.8 L1249.1,1063.8 L1255.1,1027.8 L1259.6,967.7 L1264.1,931.7 L1270.1,916.7 L1276.2,912.2 L1282.2,934.7 L1289.7,955.7 L1297.2,967.7 L1303.2,969.2 L1307.7,964.7 L1313.7,934.7 L1321.2,936.2 L1331.7,936.2 L1339.2,943.7 L1348.2,943.7 L1360.2,934.7 L1366.2,940.7 L1375.2,944.3 L1387.2,940.7 L1405.2,937.7 L1423.3,931.1 L1438.3,930.2 L1453.3,931.1 L1471.3,933.8 L1480.3,931.1 L1492.3,925.7 L1500.0,928.7 L1512.0,924.2 L1527.0,919.7 L1539.0,918.2 L1548.0,924.2 L1557.0,934.7 L1575.1,946.7 L1582.6,948.2 L1588.6,942.2 L1596.1,946.7 L1612.6,949.7 L1618.6,960.2 L1624.6,961.7 L1632.1,966.2 L1642.6,949.7 L1648.6,955.7 L1654.6,972.2 L1662.1,985.7 L1668.1,1000.7 L1680.1,996.2 L1687.6,996.2 L1693.6,991.1 L1699.6,997.7 L1707.1,1017.3 L1716.2,1035.3 L1725.2,1050.3 L1729.7,1051.2 L1741.7,1069.8 L1749.2,1054.8 L1753.7,1053.3 L1759.7,1060.8 L1765.7,1051.8 L1771.7,1021.8 L1777.7,988.7 L1785.2,981.2 L1789.7,981.2 L1797.2,994.7 L1809.2,1002.3 L1815.2,981.2 L1821.2,975.2 L1827.2,1018.8 L1833.2,997.7 L1839.2,979.7 L1845.2,981.2 L1857.3,996.2 L1864.8,987.2 L1875.3,985.7 L1888.8,982.7 L1899.3,985.7 L1914.3,984.2 L1926.3,981.2 L1935.3,979.1 L1944.3,978.2" stroke="#00ff7f" stroke-width="2.8" stroke-opacity="0.7"/>
<path d="M186.6,980.1 L193.5,978.6 L200.4,976.2 L205.5,977.7 L211.5,982.2 L218.4,992.1 L224.4,994.2 L231.0,988.2 L240.0,985.2 L249.0,980.7 L258.1,974.7 L267.1,969.3 L274.6,965.1 L285.1,966.3 L294.1,962.1 L303.1,957.6 L312.1,953.7 L321.1,950.7 L331.0,948.3 L339.1,946.2 L346.6,942.6 L354.1,936.3 L360.1,932.7 L369.1,929.1 L378.1,922.8 L390.1,917.7 L402.2,913.2 L414.2,908.1 L426.2,904.2 L438.2,900.3 L450.2,896.7 L463.7,893.7 L474.2,895.2 L486.2,897.3 L501.2,898.5 L516.2,896.7 L525.2,898.2 L537.3,902.7 L549.3,905.1 L558.3,908.7 L567.3,912.6 L576.3,914.7 L588.3,917.7 L600.3,921.6 L609.3,925.8 L620.0,932.1 L632.0,940.2 L647.0,947.7 L656.0,945.3 L665.0,943.2 L672.5,974.7 L678.5,992.7 L684.5,1007.8 L690.5,1034.8 L696.6,1057.3 L707.1,1072.3 L716.1,1076.8 L720.6,1069.3 L726.6,1091.8 L732.6,1112.8 L734.1,1148.9 L737.1,1208.9 L740.1,1256.9 L744.6,1308.0 L752.1,1335.0 L756.6,1338.0 L762.6,1329.0 L767.1,1286.9 L774.6,1271.9 L780.6,1276.4 L788.1,1238.9 L794.1,1202.9 L800.1,1154.9 L806.1,1133.8 L812.1,1132.3 L818.1,1121.8 L824.1,1103.8 L830.1,1043.8 L836.2,974.7 L842.2,917.7 L848.2,884.7 L855.7,872.7 L863.2,878.7 L869.2,884.7 L875.2,897.3 L882.7,900.3 L885.7,896.7 L890.2,901.2 L902.2,910.2 L914.2,918.3 L920.2,923.1 L932.2,923.1 L944.2,920.1 L953.2,917.1 L965.2,916.2 L983.3,914.7 L998.3,917.1 L1010.3,919.8 L1022.3,923.7 L1034.3,932.7 L1046.3,944.7 L1060.0,952.2 L1069.0,958.2 L1078.0,959.1 L1087.0,956.1 L1096.0,947.7 L1106.5,942.3 L1112.5,943.2 L1118.5,952.2 L1124.5,980.7 L1130.5,1028.8 L1136.6,1064.8 L1142.6,1099.3 L1148.6,1096.3 L1154.6,1076.8 L1160.6,1067.8 L1166.6,1082.8 L1174.1,1096.3 L1180.1,1103.8 L1189.1,1103.8 L1195.1,1118.8 L1201.1,1154.9 L1207.1,1172.9 L1214.6,1180.4 L1222.1,1177.4 L1228.1,1148.9 L1234.1,1127.8 L1241.6,1106.8 L1249.1,1064.8 L1255.1,1028.8 L1259.6,968.7 L1264.1,932.7 L1270.1,917.7 L1276.2,913.2 L1282.2,935.7 L1289.7,956.7 L1297.2,968.7 L1303.2,970.2 L1307.7,965.7 L1313.7,935.7 L1321.2,937.2 L1331.7,937.2 L1339.2,944.7 L1348.2,944.7 L1360.2,935.7 L1366.2,941.7 L1375.2,945.3 L1387.2,941.7 L1405.2,938.7 L1423.3,932.1 L1438.3,931.2 L1453.3,932.1 L1471.3,934.8 L1480.3,932.1 L1492.3,926.7 L1500.0,929.7 L1512.0,925.2 L1527.0,920.7 L1539.0,919.2 L1548.0,925.2 L1557.0,935.7 L1575.1,947.7 L1582.6,949.2 L1588.6,943.2 L1596.1,947.7 L1612.6,950.7 L1618.6,961.2 L1624.6,962.7 L1632.1,967.2 L1642.6,950.7 L1648.6,956.7 L1654.6,973.2 L1662.1,986.7 L1668.1,1001.7 L1680.1,997.2 L1687.6,997.2 L1693.6,992.1 L1699.6,998.7 L1707.1,1018.3 L1716.2,1036.3 L1725.2,1051.3 L1729.7,1052.2 L1741.7,1070.8 L1749.2,1055.8 L1753.7,1054.3 L1759.7,1061.8 L1765.7,1052.8 L1771.7,1022.8 L1777.7,989.7 L1785.2,982.2 L1789.7,982.2 L1797.2,995.7 L1809.2,1003.3 L1815.2,982.2 L1821.2,976.2 L1827.2,1019.8 L1833.2,998.7 L1839.2,980.7 L1845.2,982.2 L1857.3,997.2 L1864.8,988.2 L1875.3,986.7 L1888.8,983.7 L1899.3,986.7 L1914.3,985.2 L1926.3,982.2 L1935.3,980.1 L1944.3,979.2" stroke="#00ff7f" stroke-width="2.8" stroke-opacity="0.7"/>
<path d="M186.6,980.9 L193.5,979.4 L200.4,977.0 L205.5,978.5 L211.5,983.0 L218.4,992.9 L224.4,995.0 L231.0,989.0 L240.0,986.0 L249.0,981.5 L258.1,975.5 L267.1,970.1 L274.6,965.9 L285.1,967.1 L294.1,962.9 L303.1,958.4 L312.1,954.5 L321.1,951.5 L331.0,949.1 L339.1,947.0 L346.6,943.4 L354.1,937.1 L360.1,933.5 L369.1,929.9 L378.1,923.6 L390.1,918.5 L402.2,914.0 L414.2,908.9 L426.2,905.0 L438.2,901.1 L450.2,897.5 L463.7,894.5 L474.2,896.0 L486.2,898.1 L501.2,899.3 L516.2,897.5 L525.2,899.0 L537.3,903.5 L549.3,905.9 L558.3,909.5 L567.3,913.4 L576.3,915.5 L588.3,918.5 L600.3,922.4 L609.3,926.6 L620.0,932.9 L632.0,941.0 L647.0,948.5 L656.0,946.1 L665.0,944.0 L672.5,975.5 L678.5,993.5 L684.5,1008.6 L690.5,1035.6 L696.6,1058.1 L707.1,1073.1 L716.1,1077.6 L720.6,1070.1 L726.6,1092.6 L732.6,1113.6 L734.1,1149.7 L737.1,1209.7 L740.1,1257.7 L744.6,1308.8 L752.1,1335.8 L756.6,1338.8 L762.6,1329.8 L767.1,1287.7 L774.6,1272.7 L780.6,1277.2 L788.1,1239.7 L794.1,1203.7 L800.1,1155.7 L806.1,1134.6 L812.1,1133.1 L818.1,1122.6 L824.1,1104.6 L830.1,1044.6 L836.2,975.5 L842.2,918.5 L848.2,885.5 L855.7,873.5 L863.2,879.5 L869.2,885.5 L875.2,898.1 L882.7,901.1 L885.7,897.5 L890.2,902.0 L902.2,911.0 L914.2,919.1 L920.2,923.9 L932.2,923.9 L944.2,920.9 L953.2,917.9 L965.2,917.0 L983.3,915.5 L998.3,917.9 L1010.3,920.6 L1022.3,924.5 L1034.3,933.5 L1046.3,945.5 L1060.0,953.0 L1069.0,959.0 L1078.0,959.9 L1087.0,956.9 L1096.0,948.5 L1106.5,943.1 L1112.5,944.0 L1118.5,953.0 L1124.5,981.5 L1130.5,1029.6 L1136.6,1065.6 L1142.6,1100.1 L1148.6,1097.1 L1154.6,1077.6 L1160.6,1068.6 L1166.6,1083.6 L1174.1,1097.1 L1180.1,1104.6 L1189.1,1104.6 L1195.1,1119.6 L1201.1,1155.7 L1207.1,1173.7 L1214.6,1181.2 L1222.1,1178.2 L1228.1,1149.7 L1234.1,1128.6 L1241.6,1107.6 L1249.1,1065.6 L1255.1,1029.6 L1259.6,969.5 L1264.1,933.5 L1270.1,918.5 L1276.2,914.0 L1282.2,936.5 L1289.7,957.5 L1297.2,969.5 L1303.2,971.0 L1307.7,966.5 L1313.7,936.5 L1321.2,938.0 L1331.7,938.0 L1339.2,945.5 L1348.2,945.5 L1360.2,936.5 L1366.2,942.5 L1375.2,946.1 L1387.2,942.5 L1405.2,939.5 L1423.3,932.9 L1438.3,932.0 L1453.3,932.9 L1471.3,935.6 L1480.3,932.9 L1492.3,927.5 L1500.0,930.5 L1512.0,926.0 L1527.0,921.5 L1539.0,920.0 L1548.0,926.0 L1557.0,936.5 L1575.1,948.5 L1582.6,950.0 L1588.6,944.0 L1596.1,948.5 L1612.6,951.5 L1618.6,962.0 L1624.6,963.5 L1632.1,968.0 L1642.6,951.5 L1648.6,957.5 L1654.6,974.0 L1662.1,987.5 L1668.1,1002.5 L1680.1,998.0 L1687.6,998.0 L1693.6,992.9 L1699.6,999.5 L1707.1,1019.1 L1716.2,1037.1 L1725.2,1052.1 L1729.7,1053.0 L1741.7,1071.6 L1749.2,1056.6 L1753.7,1055.1 L1759.7,1062.6 L1765.7,1053.6 L1771.7,1023.6 L1777.7,990.5 L1785.2,983.0 L1789.7,983.0 L1797.2,996.5 L1809.2,1004.1 L1815.2,983.0 L1821.2,977.0 L1827.2,1020.6 L1833.2,999.5 L1839.2,981.5 L1845.2,983.0 L1857.3,998.0 L1864.8,989.0 L1875.3,987.5 L1888.8,984.5 L1899.3,987.5 L1914.3,986.0 L1926.3,983.0 L1935.3,980.9 L1944.3,980.0" stroke="#00ff7f" stroke-width="2.8" stroke-opacity="0.7"/>
<path d="M186.6,984.2 L193.5,982.7 L200.4,980.3 L205.5,981.8 L211.5,986.3 L218.4,996.2 L224.4,998.3 L231.0,992.3 L240.0,989.3 L249.0,984.8 L258.1,978.8 L267.1,973.4 L274.6,969.2 L285.1,970.4 L294.1,966.2 L303.1,961.7 L312.1,957.8 L321.1,954.8 L331.0,952.4 L339.1,950.3 L346.6,946.7 L354.1,940.4 L360.1,936.8 L369.1,933.2 L378.1,926.9 L390.1,921.8 L402.2,917.3 L414.2,912.2 L426.2,908.3 L438.2,904.4 L450.2,900.8 L463.7,897.8 L474.2,899.3 L486.2,901.4 L501.2,902.6 L516.2,900.8 L525.2,902.3 L537.3,906.8 L549.3,909.2 L558.3,912.8 L567.3,916.7 L576.3,918.8 L588.3,921.8 L600.3,925.7 L609.3,929.9 L620.0,936.2 L632.0,944.3 L647.0,951.8 L656.0,949.4 L665.0,947.3 L672.5,978.8 L678.5,996.8 L684.5,1011.9 L690.5,1038.9 L696.6,1061.4 L707.1,1076.4 L716.1,1080.9 L720.6,1073.4 L726.6,1095.9 L732.6,1116.9 L734.1,1153.0 L737.1,1213.0 L740.1,1261.0 L744.6,1312.1 L752.1,1339.1 L756.6,1342.1 L762.6,1333.1 L767.1,1291.0 L774.6,1276.0 L780.6,1280.5 L788.1,1243.0 L794.1,1207.0 L800.1,1159.0 L806.1,1137.9 L812.1,1136.4 L818.1,1125.9 L824.1,1107.9 L830.1,1047.9 L836.2,978.8 L842.2,921.8 L848.2,888.8 L855.7,876.8 L863.2,882.8 L869.2,888.8 L875.2,901.4 L882.7,904.4 L885.7,900.8 L890.2,905.3 L902.2,914.3 L914.2,922.4 L920.2,927.2 L932.2,927.2 L944.2,924.2 L953.2,921.2 L965.2,920.3 L983.3,918.8 L998.3,921.2 L1010.3,923.9 L1022.3,927.8 L1034.3,936.8 L1046.3,948.8 L1060.0,956.3 L1069.0,962.3 L1078.0,963.2 L1087.0,960.2 L1096.0,951.8 L1106.5,946.4 L1112.5,947.3 L1118.5,956.3 L1124.5,984.8 L1130.5,1032.9 L1136.6,1068.9 L1142.6,1103.4 L1148.6,1100.4 L1154.6,1080.9 L1160.6,1071.9 L1166.6,1086.9 L1174.1,1100.4 L1180.1,1107.9 L1189.1,1107.9 L1195.1,1122.9 L1201.1,1159.0 L1207.1,1177.0 L1214.6,1184.5 L1222.1,1181.5 L1228.1,1153.0 L1234.1,1131.9 L1241.6,1110.9 L1249.1,1068.9 L1255.1,1032.9 L1259.6,972.8 L1264.1,936.8 L1270.1,921.8 L1276.2,917.3 L1282.2,939.8 L1289.7,960.8 L1297.2,972.8 L1303.2,974.3 L1307.7,969.8 L1313.7,939.8 L1321.2,941.3 L1331.7,941.3 L1339.2,948.8 L1348.2,948.8 L1360.2,939.8 L1366.2,945.8 L1375.2,949.4 L1387.2,945.8 L1405.2,942.8 L1423.3,936.2 L1438.3,935.3 L1453.3,936.2 L1471.3,938.9 L1480.3,936.2 L1492.3,930.8 L1500.0,933.8 L1512.0,929.3 L1527.0,924.8 L1539.0,923.3 L1548.0,929.3 L1557.0,939.8 L1575.1,951.8 L1582.6,953.3 L1588.6,947.3 L1596.1,951.8 L1612.6,954.8 L1618.6,965.3 L1624.6,966.8 L1632.1,971.3 L1642.6,954.8 L1648.6,960.8 L1654.6,977.3 L1662.1,990.8 L1668.1,1005.8 L1680.1,1001.3 L1687.6,1001.3 L1693.6,996.2 L1699.6,1002.8 L1707.1,1022.4 L1716.2,1040.4 L1725.2,1055.4 L1729.7,1056.3 L1741.7,1074.9 L1749.2,1059.9 L1753.7,1058.4 L1759.7,1065.9 L1765.7,1056.9 L1771.7,1026.9 L1777.7,993.8 L1785.2,986.3 L1789.7,986.3 L1797.2,999.8 L1809.2,1007.4 L1815.2,986.3 L1821.2,980.3 L1827.2,1023.9 L1833.2,1002.8 L1839.2,984.8 L1845.2,986.3 L1857.3,1001.3 L1864.8,992.3 L1875.3,990.8 L1888.8,987.8 L1899.3,990.8 L1914.3,989.3 L1926.3,986.3 L1935.3,984.2 L1944.3,983.3" stroke="#00ff7f" stroke-width="2.8" stroke-opacity="0.72"/>
<path d="M186.6,1137.3 L193.5,1133.4 L200.4,1129.8 L205.5,1132.8 L211.5,1136.4 L218.4,1147.9 L224.4,1150.3 L231.0,1144.9 L240.0,1141.8 L249.0,1138.2 L258.1,1129.8 L267.1,1117.8 L274.6,1111.8 L285.1,1110.3 L294.1,1107.3 L303.1,1103.4 L312.1,1102.2 L321.1,1101.3 L331.0,1097.4 L339.1,1091.4 L346.6,1087.8 L354.1,1082.7 L360.1,1078.2 L369.1,1072.8 L378.1,1062.3 L387.1,1054.8 L396.2,1051.2 L408.2,1044.9 L420.2,1039.8 L429.2,1035.3 L438.2,1030.8 L450.2,1023.3 L462.2,1018.8 L471.2,1016.7 L483.2,1015.8 L495.2,1013.4 L504.2,1012.8 L516.2,1015.8 L528.2,1020.3 L537.3,1026.3 L546.3,1033.8 L555.3,1040.7 L567.3,1048.8 L576.3,1050.3 L586.8,1053.3 L597.3,1060.8 L609.3,1068.3 L620.0,1074.3 L635.0,1087.8 L647.0,1091.4 L653.0,1090.8 L659.0,1084.8 L665.0,1082.4 L671.0,1099.8 L677.0,1117.8 L686.0,1129.8 L695.1,1161.4 L702.6,1161.4 L710.1,1157.5 L716.1,1157.8 L720.6,1153.9 L726.6,1188.4 L732.6,1189.9 L738.6,1171.9 L744.6,1159.9 L750.6,1167.4 L759.6,1129.8 L767.1,1099.8 L774.6,1063.8 L781.5,1041.3 L787.5,1075.8 L793.5,1111.8 L800.1,1084.8 L806.1,1063.8 L812.1,1053.3 L818.1,1044.3 L824.1,1044.3 L830.1,973.7 L836.2,907.7 L842.8,868.7 L849.7,889.7 L855.7,925.7 L860.2,967.7 L864.7,991.7 L872.2,999.2 L881.2,1009.8 L890.2,1015.8 L896.2,1021.8 L902.2,1024.2 L911.2,1030.2 L920.2,1034.4 L932.2,1036.8 L944.2,1037.7 L953.2,1041.3 L962.2,1047.3 L974.2,1053.3 L989.3,1056.9 L1001.3,1063.8 L1016.3,1072.2 L1028.3,1081.8 L1046.3,1095.3 L1060.0,1102.8 L1072.0,1110.3 L1087.0,1113.3 L1099.0,1111.8 L1106.5,1105.8 L1111.0,1099.8 L1117.0,1099.8 L1124.5,1129.8 L1130.5,1165.9 L1136.6,1207.9 L1142.6,1254.4 L1148.6,1243.9 L1156.1,1230.4 L1162.1,1231.9 L1169.6,1243.9 L1174.1,1245.4 L1180.1,1236.4 L1186.1,1219.9 L1192.1,1219.9 L1198.1,1240.9 L1204.1,1276.9 L1210.1,1289.0 L1222.1,1295.0 L1228.1,1267.9 L1234.1,1222.9 L1240.1,1186.9 L1246.1,1162.9 L1252.1,1147.9 L1259.6,1093.8 L1267.1,1063.8 L1271.6,1056.3 L1279.2,1059.3 L1288.2,1065.3 L1297.2,1075.8 L1303.2,1087.8 L1307.7,1099.8 L1313.6,1080.9 L1323.3,1083.5 L1329.8,1086.1 L1338.8,1092.5 L1344.0,1091.9 L1354.3,1096.4 L1362.1,1102.2 L1372.5,1100.3 L1386.7,1099.0 L1398.3,1091.2 L1406.1,1088.6 L1416.5,1082.8 L1426.8,1076.4 L1430.7,1075.1 L1442.3,1071.8 L1448.8,1073.8 L1459.2,1072.5 L1468.2,1066.6 L1474.7,1065.4 L1483.7,1063.4 L1494.1,1058.2 L1503.2,1054.4 L1509.6,1045.9 L1520.0,1044.0 L1532.9,1042.7 L1539.4,1044.0 L1548.0,1051.8 L1557.0,1060.8 L1566.0,1072.8 L1576.6,1090.8 L1582.6,1095.3 L1588.6,1087.8 L1594.6,1099.8 L1600.6,1110.3 L1606.6,1093.8 L1612.6,1083.3 L1618.6,1084.8 L1624.6,1111.8 L1632.1,1125.3 L1638.1,1117.8 L1643.5,1101.3 L1650.1,1117.8 L1662.1,1138.8 L1668.1,1155.4 L1674.1,1149.4 L1686.1,1159.9 L1693.6,1152.4 L1698.1,1156.9 L1704.1,1168.9 L1711.6,1177.9 L1717.7,1195.9 L1723.7,1237.9 L1729.7,1279.9 L1735.7,1301.0 L1741.7,1319.0 L1749.2,1298.0 L1758.2,1276.9 L1764.2,1237.9 L1770.2,1183.9 L1776.2,1147.9 L1783.7,1138.8 L1791.2,1143.3 L1800.2,1143.3 L1807.7,1137.3 L1815.2,1119.3 L1821.2,1116.3 L1827.2,1156.9 L1833.2,1135.8 L1839.2,1126.8 L1848.2,1135.8 L1857.3,1146.4 L1864.8,1138.8 L1875.3,1144.9 L1888.8,1144.9 L1899.3,1146.4 L1908.3,1147.9 L1920.3,1144.9 L1932.3,1140.3 L1944.3,1138.8" stroke="#4169e1" stroke-width="2.8" stroke-opacity="0.7"/>
<path d="M186.6,1138.3 L193.5,1134.4 L200.4,1130.8 L205.5,1133.8 L211.5,1137.4 L218.4,1148.9 L224.4,1151.3 L231.0,1145.9 L240.0,1142.8 L249.0,1139.2 L258.1,1130.8 L267.1,1118.8 L274.6,1112.8 L285.1,1111.3 L294.1,1108.3 L303.1,1104.4 L312.1,1103.2 L321.1,1102.3 L331.0,1098.4 L339.1,1092.4 L346.6,1088.8 L354.1,1083.7 L360.1,1079.2 L369.1,1073.8 L378.1,1063.3 L387.1,1055.8 L396.2,1052.2 L408.2,1045.9 L420.2,1040.8 L429.2,1036.3 L438.2,1031.8 L450.2,1024.3 L462.2,1019.8 L471.2,1017.7 L483.2,1016.8 L495.2,1014.4 L504.2,1013.8 L516.2,1016.8 L528.2,1021.3 L537.3,1027.3 L546.3,1034.8 L555.3,1041.7 L567.3,1049.8 L576.3,1051.3 L586.8,1054.3 L597.3,1061.8 L609.3,1069.3 L620.0,1075.3 L635.0,1088.8 L647.0,1092.4 L653.0,1091.8 L659.0,1085.8 L665.0,1083.4 L671.0,1100.8 L677.0,1118.8 L686.0,1130.8 L695.1,1162.4 L702.6,1162.4 L710.1,1158.5 L716.1,1158.8 L720.6,1154.9 L726.6,1189.4 L732.6,1190.9 L738.6,1172.9 L744.6,1160.9 L750.6,1168.4 L759.6,1130.8 L767.1,1100.8 L774.6,1064.8 L781.5,1042.3 L787.5,1076.8 L793.5,1112.8 L800.1,1085.8 L806.1,1064.8 L812.1,1054.3 L818.1,1045.3 L824.1,1045.3 L830.1,974.7 L836.2,908.7 L842.8,869.7 L849.7,890.7 L855.7,926.7 L860.2,968.7 L864.7,992.7 L872.2,1000.2 L881.2,1010.8 L890.2,1016.8 L896.2,1022.8 L902.2,1025.2 L911.2,1031.2 L920.2,1035.4 L932.2,1037.8 L944.2,1038.7 L953.2,1042.3 L962.2,1048.3 L974.2,1054.3 L989.3,1057.9 L1001.3,1064.8 L1016.3,1073.2 L1028.3,1082.8 L1046.3,1096.3 L1060.0,1103.8 L1072.0,1111.3 L1087.0,1114.3 L1099.0,1112.8 L1106.5,1106.8 L1111.0,1100.8 L1117.0,1100.8 L1124.5,1130.8 L1130.5,1166.9 L1136.6,1208.9 L1142.6,1255.4 L1148.6,1244.9 L1156.1,1231.4 L1162.1,1232.9 L1169.6,1244.9 L1174.1,1246.4 L1180.1,1237.4 L1186.1,1220.9 L1192.1,1220.9 L1198.1,1241.9 L1204.1,1277.9 L1210.1,1290.0 L1222.1,1296.0 L1228.1,1268.9 L1234.1,1223.9 L1240.1,1187.9 L1246.1,1163.9 L1252.1,1148.9 L1259.6,1094.8 L1267.1,1064.8 L1271.6,1057.3 L1279.2,1060.3 L1288.2,1066.3 L1297.2,1076.8 L1303.2,1088.8 L1307.7,1100.8 L1313.6,1081.9 L1323.3,1084.5 L1329.8,1087.1 L1338.8,1093.5 L1344.0,1092.9 L1354.3,1097.4 L1362.1,1103.2 L1372.5,1101.3 L1386.7,1100.0 L1398.3,1092.2 L1406.1,1089.6 L1416.5,1083.8 L1426.8,1077.4 L1430.7,1076.1 L1442.3,1072.8 L1448.8,1074.8 L1459.2,1073.5 L1468.2,1067.6 L1474.7,1066.4 L1483.7,1064.4 L1494.1,1059.2 L1503.2,1055.4 L1509.6,1046.9 L1520.0,1045.0 L1532.9,1043.7 L1539.4,1045.0 L1548.0,1052.8 L1557.0,1061.8 L1566.0,1073.8 L1576.6,1091.8 L1582.6,1096.3 L1588.6,1088.8 L1594.6,1100.8 L1600.6,1111.3 L1606.6,1094.8 L1612.6,1084.3 L1618.6,1085.8 L1624.6,1112.8 L1632.1,1126.3 L1638.1,1118.8 L1643.5,1102.3 L1650.1,1118.8 L1662.1,1139.8 L1668.1,1156.4 L1674.1,1150.4 L1686.1,1160.9 L1693.6,1153.4 L1698.1,1157.9 L1704.1,1169.9 L1711.6,1178.9 L1717.7,1196.9 L1723.7,1238.9 L1729.7,1280.9 L1735.7,1302.0 L1741.7,1320.0 L1749.2,1299.0 L1758.2,1277.9 L1764.2,1238.9 L1770.2,1184.9 L1776.2,1148.9 L1783.7,1139.8 L1791.2,1144.3 L1800.2,1144.3 L1807.7,1138.3 L1815.2,1120.3 L1821.2,1117.3 L1827.2,1157.9 L1833.2,1136.8 L1839.2,1127.8 L1848.2,1136.8 L1857.3,1147.4 L1864.8,1139.8 L1875.3,1145.9 L1888.8,1145.9 L1899.3,1147.4 L1908.3,1148.9 L1920.3,1145.9 L1932.3,1141.3 L1944.3,1139.8" stroke="#4169e1" stroke-width="2.8" stroke-opacity="0.7"/>
<path d="M186.6,1139.1 L193.5,1135.2 L200.4,1131.6 L205.5,1134.6 L211.5,1138.2 L218.4,1149.7 L224.4,1152.1 L231.0,1146.7 L240.0,1143.6 L249.0,1140.0 L258.1,1131.6 L267.1,1119.6 L274.6,1113.6 L285.1,1112.1 L294.1,1109.1 L303.1,1105.2 L312.1,1104.0 L321.1,1103.1 L331.0,1099.2 L339.1,1093.2 L346.6,1089.6 L354.1,1084.5 L360.1,1080.0 L369.1,1074.6 L378.1,1064.1 L387.1,1056.6 L396.2,1053.0 L408.2,1046.7 L420.2,1041.6 L429.2,1037.1 L438.2,1032.6 L450.2,1025.1 L462.2,1020.6 L471.2,1018.5 L483.2,1017.6 L495.2,1015.2 L504.2,1014.6 L516.2,1017.6 L528.2,1022.1 L537.3,1028.1 L546.3,1035.6 L555.3,1042.5 L567.3,1050.6 L576.3,1052.1 L586.8,1055.1 L597.3,1062.6 L609.3,1070.1 L620.0,1076.1 L635.0,1089.6 L647.0,1093.2 L653.0,1092.6 L659.0,1086.6 L665.0,1084.2 L671.0,1101.6 L677.0,1119.6 L686.0,1131.6 L695.1,1163.2 L702.6,1163.2 L710.1,1159.3 L716.1,1159.6 L720.6,1155.7 L726.6,1190.2 L732.6,1191.7 L738.6,1173.7 L744.6,1161.7 L750.6,1169.2 L759.6,1131.6 L767.1,1101.6 L774.6,1065.6 L781.5,1043.1 L787.5,1077.6 L793.5,1113.6 L800.1,1086.6 L806.1,1065.6 L812.1,1055.1 L818.1,1046.1 L824.1,1046.1 L830.1,975.5 L836.2,909.5 L842.8,870.5 L849.7,891.5 L855.7,927.5 L860.2,969.5 L864.7,993.5 L872.2,1001.0 L881.2,1011.6 L890.2,1017.6 L896.2,1023.6 L902.2,1026.0 L911.2,1032.0 L920.2,1036.2 L932.2,1038.6 L944.2,1039.5 L953.2,1043.1 L962.2,1049.1 L974.2,1055.1 L989.3,1058.7 L1001.3,1065.6 L1016.3,1074.0 L1028.3,1083.6 L1046.3,1097.1 L1060.0,1104.6 L1072.0,1112.1 L1087.0,1115.1 L1099.0,1113.6 L1106.5,1107.6 L1111.0,1101.6 L1117.0,1101.6 L1124.5,1131.6 L1130.5,1167.7 L1136.6,1209.7 L1142.6,1256.2 L1148.6,1245.7 L1156.1,1232.2 L1162.1,1233.7 L1169.6,1245.7 L1174.1,1247.2 L1180.1,1238.2 L1186.1,1221.7 L1192.1,1221.7 L1198.1,1242.7 L1204.1,1278.7 L1210.1,1290.8 L1222.1,1296.8 L1228.1,1269.7 L1234.1,1224.7 L1240.1,1188.7 L1246.1,1164.7 L1252.1,1149.7 L1259.6,1095.6 L1267.1,1065.6 L1271.6,1058.1 L1279.2,1061.1 L1288.2,1067.1 L1297.2,1077.6 L1303.2,1089.6 L1307.7,1101.6 L1313.6,1082.7 L1323.3,1085.3 L1329.8,1087.9 L1338.8,1094.3 L1344.0,1093.7 L1354.3,1098.2 L1362.1,1104.0 L1372.5,1102.1 L1386.7,1100.8 L1398.3,1093.0 L1406.1,1090.4 L1416.5,1084.6 L1426.8,1078.2 L1430.7,1076.9 L1442.3,1073.6 L1448.8,1075.6 L1459.2,1074.3 L1468.2,1068.4 L1474.7,1067.2 L1483.7,1065.2 L1494.1,1060.0 L1503.2,1056.2 L1509.6,1047.7 L1520.0,1045.8 L1532.9,1044.5 L1539.4,1045.8 L1548.0,1053.6 L1557.0,1062.6 L1566.0,1074.6 L1576.6,1092.6 L1582.6,1097.1 L1588.6,1089.6 L1594.6,1101.6 L1600.6,1112.1 L1606.6,1095.6 L1612.6,1085.1 L1618.6,1086.6 L1624.6,1113.6 L1632.1,1127.1 L1638.1,1119.6 L1643.5,1103.1 L1650.1,1119.6 L1662.1,1140.6 L1668.1,1157.2 L1674.1,1151.2 L1686.1,1161.7 L1693.6,1154.2 L1698.1,1158.7 L1704.1,1170.7 L1711.6,1179.7 L1717.7,1197.7 L1723.7,1239.7 L1729.7,1281.7 L1735.7,1302.8 L1741.7,1320.8 L1749.2,1299.8 L1758.2,1278.7 L1764.2,1239.7 L1770.2,1185.7 L1776.2,1149.7 L1783.7,1140.6 L1791.2,1145.1 L1800.2,1145.1 L1807.7,1139.1 L1815.2,1121.1 L1821.2,1118.1 L1827.2,1158.7 L1833.2,1137.6 L1839.2,1128.6 L1848.2,1137.6 L1857.3,1148.2 L1864.8,1140.6 L1875.3,1146.7 L1888.8,1146.7 L1899.3,1148.2 L1908.3,1149.7 L1920.3,1146.7 L1932.3,1142.1 L1944.3,1140.6" stroke="#4169e1" stroke-width="2.8" stroke-opacity="0.7"/>
<path d="M186.6,1142.4 L193.5,1138.5 L200.4,1134.9 L205.5,1137.9 L211.5,1141.5 L218.4,1153.0 L224.4,1155.4 L231.0,1150.0 L240.0,1146.9 L249.0,1143.3 L258.1,1134.9 L267.1,1122.9 L274.6,1116.9 L285.1,1115.4 L294.1,1112.4 L303.1,1108.5 L312.1,1107.3 L321.1,1106.4 L331.0,1102.5 L339.1,1096.5 L346.6,1092.9 L354.1,1087.8 L360.1,1083.3 L369.1,1077.9 L378.1,1067.4 L387.1,1059.9 L396.2,1056.3 L408.2,1050.0 L420.2,1044.9 L429.2,1040.4 L438.2,1035.9 L450.2,1028.4 L462.2,1023.9 L471.2,1021.8 L483.2,1020.9 L495.2,1018.5 L504.2,1017.9 L516.2,1020.9 L528.2,1025.4 L537.3,1031.4 L546.3,1038.9 L555.3,1045.8 L567.3,1053.9 L576.3,1055.4 L586.8,1058.4 L597.3,1065.9 L609.3,1073.4 L620.0,1079.4 L635.0,1092.9 L647.0,1096.5 L653.0,1095.9 L659.0,1089.9 L665.0,1087.5 L671.0,1104.9 L677.0,1122.9 L686.0,1134.9 L695.1,1166.5 L702.6,1166.5 L710.1,1162.6 L716.1,1162.9 L720.6,1159.0 L726.6,1193.5 L732.6,1195.0 L738.6,1177.0 L744.6,1165.0 L750.6,1172.5 L759.6,1134.9 L767.1,1104.9 L774.6,1068.9 L781.5,1046.4 L787.5,1080.9 L793.5,1116.9 L800.1,1089.9 L806.1,1068.9 L812.1,1058.4 L818.1,1049.4 L824.1,1049.4 L830.1,978.8 L836.2,912.8 L842.8,873.8 L849.7,894.8 L855.7,930.8 L860.2,972.8 L864.7,996.8 L872.2,1004.3 L881.2,1014.9 L890.2,1020.9 L896.2,1026.9 L902.2,1029.3 L911.2,1035.3 L920.2,1039.5 L932.2,1041.9 L944.2,1042.8 L953.2,1046.4 L962.2,1052.4 L974.2,1058.4 L989.3,1062.0 L1001.3,1068.9 L1016.3,1077.3 L1028.3,1086.9 L1046.3,1100.4 L1060.0,1107.9 L1072.0,1115.4 L1087.0,1118.4 L1099.0,1116.9 L1106.5,1110.9 L1111.0,1104.9 L1117.0,1104.9 L1124.5,1134.9 L1130.5,1171.0 L1136.6,1213.0 L1142.6,1259.5 L1148.6,1249.0 L1156.1,1235.5 L1162.1,1237.0 L1169.6,1249.0 L1174.1,1250.5 L1180.1,1241.5 L1186.1,1225.0 L1192.1,1225.0 L1198.1,1246.0 L1204.1,1282.0 L1210.1,1294.1 L1222.1,1300.1 L1228.1,1273.0 L1234.1,1228.0 L1240.1,1192.0 L1246.1,1168.0 L1252.1,1153.0 L1259.6,1098.9 L1267.1,1068.9 L1271.6,1061.4 L1279.2,1064.4 L1288.2,1070.4 L1297.2,1080.9 L1303.2,1092.9 L1307.7,1104.9 L1313.6,1086.0 L1323.3,1088.6 L1329.8,1091.2 L1338.8,1097.6 L1344.0,1097.0 L1354.3,1101.5 L1362.1,1107.3 L1372.5,1105.4 L1386.7,1104.1 L1398.3,1096.3 L1406.1,1093.7 L1416.5,1087.9 L1426.8,1081.5 L1430.7,1080.2 L1442.3,1076.9 L1448.8,1078.9 L1459.2,1077.6 L1468.2,1071.7 L1474.7,1070.5 L1483.7,1068.5 L1494.1,1063.3 L1503.2,1059.5 L1509.6,1051.0 L1520.0,1049.1 L1532.9,1047.8 L1539.4,1049.1 L1548.0,1056.9 L1557.0,1065.9 L1566.0,1077.9 L1576.6,1095.9 L1582.6,1100.4 L1588.6,1092.9 L1594.6,1104.9 L1600.6,1115.4 L1606.6,1098.9 L1612.6,1088.4 L1618.6,1089.9 L1624.6,1116.9 L1632.1,1130.4 L1638.1,1122.9 L1643.5,1106.4 L1650.1,1122.9 L1662.1,1143.9 L1668.1,1160.5 L1674.1,1154.5 L1686.1,1165.0 L1693.6,1157.5 L1698.1,1162.0 L1704.1,1174.0 L1711.6,1183.0 L1717.7,1201.0 L1723.7,1243.0 L1729.7,1285.0 L1735.7,1306.1 L1741.7,1324.1 L1749.2,1303.1 L1758.2,1282.0 L1764.2,1243.0 L1770.2,1189.0 L1776.2,1153.0 L1783.7,1143.9 L1791.2,1148.4 L1800.2,1148.4 L1807.7,1142.4 L1815.2,1124.4 L1821.2,1121.4 L1827.2,1162.0 L1833.2,1140.9 L1839.2,1131.9 L1848.2,1140.9 L1857.3,1151.5 L1864.8,1143.9 L1875.3,1150.0 L1888.8,1150.0 L1899.3,1151.5 L1908.3,1153.0 L1920.3,1150.0 L1932.3,1145.4 L1944.3,1143.9" stroke="#4169e1" stroke-width="2.8" stroke-opacity="0.72"/>
<path d="M186.6,1240.3 L193.5,1236.4 L200.4,1232.8 L207.0,1234.9 L212.4,1237.9 L218.4,1248.4 L224.4,1249.9 L231.0,1243.9 L240.0,1239.4 L249.0,1233.4 L258.1,1222.9 L267.1,1212.4 L274.6,1206.4 L285.1,1209.4 L294.1,1207.9 L303.1,1203.4 L312.1,1198.9 L324.1,1196.5 L336.1,1195.9 L345.1,1197.4 L354.1,1192.9 L363.1,1189.3 L372.1,1186.9 L384.1,1183.3 L396.2,1181.8 L408.2,1178.8 L420.2,1175.5 L432.2,1173.4 L444.2,1170.4 L456.2,1171.3 L468.2,1172.5 L480.2,1173.4 L492.2,1171.3 L504.2,1169.8 L516.2,1170.4 L528.2,1174.9 L540.3,1183.9 L555.3,1194.4 L567.3,1207.9 L579.3,1219.9 L591.3,1233.4 L603.3,1251.4 L612.3,1263.4 L620.0,1267.9 L629.0,1273.9 L638.0,1267.9 L647.0,1252.9 L657.5,1225.9 L666.5,1204.9 L672.5,1198.9 L680.0,1180.9 L689.0,1156.9 L698.1,1135.8 L710.1,1105.8 L719.1,1084.8 L725.1,1096.8 L732.6,1111.8 L738.6,1150.9 L743.1,1180.9 L750.6,1198.9 L756.6,1231.9 L763.5,1285.9 L771.6,1276.9 L779.1,1225.9 L786.6,1153.9 L792.6,1120.8 L800.1,1057.8 L807.6,1003.8 L815.1,958.7 L821.1,937.7 L830.1,919.7 L836.2,889.7 L842.2,856.6 L848.2,817.6 L854.2,843.1 L858.7,895.7 L864.7,982.7 L869.2,1057.8 L873.7,1093.8 L881.2,1111.8 L891.7,1126.8 L896.2,1120.8 L905.2,1129.8 L917.2,1141.8 L932.2,1153.9 L944.2,1161.4 L959.2,1168.9 L977.3,1179.4 L992.3,1189.9 L1007.3,1200.4 L1019.3,1213.9 L1031.3,1228.9 L1043.3,1243.9 L1052.3,1252.9 L1060.0,1254.4 L1069.0,1249.9 L1078.0,1234.9 L1090.0,1207.9 L1099.0,1183.9 L1108.0,1164.4 L1114.0,1158.4 L1123.0,1171.9 L1132.1,1177.9 L1138.1,1177.9 L1144.1,1156.9 L1148.6,1117.8 L1154.6,1078.8 L1160.6,1060.8 L1168.1,1083.3 L1177.1,1096.8 L1186.1,1105.8 L1195.1,1120.8 L1204.1,1147.9 L1210.1,1177.9 L1216.1,1204.9 L1222.1,1228.9 L1228.1,1213.9 L1234.1,1177.9 L1243.1,1177.9 L1252.1,1174.9 L1258.1,1141.8 L1264.1,1105.8 L1270.1,1105.8 L1276.2,1107.3 L1282.2,1075.8 L1288.2,1071.3 L1294.2,1081.8 L1300.2,1105.8 L1306.2,1153.9 L1315.2,1174.9 L1324.2,1183.9 L1336.2,1192.9 L1348.2,1203.4 L1360.2,1210.9 L1372.2,1221.4 L1384.2,1224.4 L1396.2,1222.9 L1408.2,1221.4 L1417.3,1224.4 L1426.3,1228.9 L1438.3,1225.9 L1450.3,1228.9 L1462.3,1231.9 L1474.3,1235.8 L1483.3,1234.9 L1492.3,1224.4 L1500.0,1218.4 L1515.0,1209.4 L1528.5,1195.9 L1537.5,1191.4 L1552.5,1198.9 L1564.5,1189.9 L1576.6,1182.4 L1584.1,1186.9 L1588.6,1195.9 L1599.1,1167.4 L1605.1,1170.4 L1612.6,1156.3 L1618.6,1159.9 L1626.1,1144.9 L1638.1,1138.8 L1650.1,1134.3 L1662.1,1147.9 L1668.1,1135.8 L1680.1,1122.3 L1692.1,1116.3 L1699.6,1132.8 L1710.1,1159.9 L1717.7,1165.9 L1723.7,1147.9 L1731.2,1111.8 L1740.2,1090.8 L1747.7,1086.3 L1753.7,1092.3 L1761.2,1147.9 L1767.2,1183.9 L1776.2,1203.4 L1788.2,1225.9 L1800.2,1255.9 L1809.2,1278.4 L1815.2,1275.4 L1821.2,1264.9 L1827.2,1305.5 L1833.2,1272.4 L1839.2,1267.9 L1845.2,1270.9 L1857.3,1284.4 L1866.3,1278.4 L1878.3,1275.4 L1890.3,1267.9 L1902.3,1264.9 L1914.3,1258.9 L1923.3,1254.4 L1932.3,1248.4 L1944.3,1242.4" stroke="#ffd700" stroke-width="2.8" stroke-opacity="0.7"/>
<path d="M186.6,1241.3 L193.5,1237.4 L200.4,1233.8 L207.0,1235.9 L212.4,1238.9 L218.4,1249.4 L224.4,1250.9 L231.0,1244.9 L240.0,1240.4 L249.0,1234.4 L258.1,1223.9 L267.1,1213.4 L274.6,1207.4 L285.1,1210.4 L294.1,1208.9 L303.1,1204.4 L312.1,1199.9 L324.1,1197.5 L336.1,1196.9 L345.1,1198.4 L354.1,1193.9 L363.1,1190.3 L372.1,1187.9 L384.1,1184.3 L396.2,1182.8 L408.2,1179.8 L420.2,1176.5 L432.2,1174.4 L444.2,1171.4 L456.2,1172.3 L468.2,1173.5 L480.2,1174.4 L492.2,1172.3 L504.2,1170.8 L516.2,1171.4 L528.2,1175.9 L540.3,1184.9 L555.3,1195.4 L567.3,1208.9 L579.3,1220.9 L591.3,1234.4 L603.3,1252.4 L612.3,1264.4 L620.0,1268.9 L629.0,1274.9 L638.0,1268.9 L647.0,1253.9 L657.5,1226.9 L666.5,1205.9 L672.5,1199.9 L680.0,1181.9 L689.0,1157.9 L698.1,1136.8 L710.1,1106.8 L719.1,1085.8 L725.1,1097.8 L732.6,1112.8 L738.6,1151.9 L743.1,1181.9 L750.6,1199.9 L756.6,1232.9 L763.5,1286.9 L771.6,1277.9 L779.1,1226.9 L786.6,1154.9 L792.6,1121.8 L800.1,1058.8 L807.6,1004.8 L815.1,959.7 L821.1,938.7 L830.1,920.7 L836.2,890.7 L842.2,857.6 L848.2,818.6 L854.2,844.1 L858.7,896.7 L864.7,983.7 L869.2,1058.8 L873.7,1094.8 L881.2,1112.8 L891.7,1127.8 L896.2,1121.8 L905.2,1130.8 L917.2,1142.8 L932.2,1154.9 L944.2,1162.4 L959.2,1169.9 L977.3,1180.4 L992.3,1190.9 L1007.3,1201.4 L1019.3,1214.9 L1031.3,1229.9 L1043.3,1244.9 L1052.3,1253.9 L1060.0,1255.4 L1069.0,1250.9 L1078.0,1235.9 L1090.0,1208.9 L1099.0,1184.9 L1108.0,1165.4 L1114.0,1159.4 L1123.0,1172.9 L1132.1,1178.9 L1138.1,1178.9 L1144.1,1157.9 L1148.6,1118.8 L1154.6,1079.8 L1160.6,1061.8 L1168.1,1084.3 L1177.1,1097.8 L1186.1,1106.8 L1195.1,1121.8 L1204.1,1148.9 L1210.1,1178.9 L1216.1,1205.9 L1222.1,1229.9 L1228.1,1214.9 L1234.1,1178.9 L1243.1,1178.9 L1252.1,1175.9 L1258.1,1142.8 L1264.1,1106.8 L1270.1,1106.8 L1276.2,1108.3 L1282.2,1076.8 L1288.2,1072.3 L1294.2,1082.8 L1300.2,1106.8 L1306.2,1154.9 L1315.2,1175.9 L1324.2,1184.9 L1336.2,1193.9 L1348.2,1204.4 L1360.2,1211.9 L1372.2,1222.4 L1384.2,1225.4 L1396.2,1223.9 L1408.2,1222.4 L1417.3,1225.4 L1426.3,1229.9 L1438.3,1226.9 L1450.3,1229.9 L1462.3,1232.9 L1474.3,1236.8 L1483.3,1235.9 L1492.3,1225.4 L1500.0,1219.4 L1515.0,1210.4 L1528.5,1196.9 L1537.5,1192.4 L1552.5,1199.9 L1564.5,1190.9 L1576.6,1183.4 L1584.1,1187.9 L1588.6,1196.9 L1599.1,1168.4 L1605.1,1171.4 L1612.6,1157.3 L1618.6,1160.9 L1626.1,1145.9 L1638.1,1139.8 L1650.1,1135.3 L1662.1,1148.9 L1668.1,1136.8 L1680.1,1123.3 L1692.1,1117.3 L1699.6,1133.8 L1710.1,1160.9 L1717.7,1166.9 L1723.7,1148.9 L1731.2,1112.8 L1740.2,1091.8 L1747.7,1087.3 L1753.7,1093.3 L1761.2,1148.9 L1767.2,1184.9 L1776.2,1204.4 L1788.2,1226.9 L1800.2,1256.9 L1809.2,1279.4 L1815.2,1276.4 L1821.2,1265.9 L1827.2,1306.5 L1833.2,1273.4 L1839.2,1268.9 L1845.2,1271.9 L1857.3,1285.4 L1866.3,1279.4 L1878.3,1276.4 L1890.3,1268.9 L1902.3,1265.9 L1914.3,1259.9 L1923.3,1255.4 L1932.3,1249.4 L1944.3,1243.4" stroke="#ffd700" stroke-width="2.8" stroke-opacity="0.7"/>
<path d="M186.6,1242.1 L193.5,1238.2 L200.4,1234.6 L207.0,1236.7 L212.4,1239.7 L218.4,1250.2 L224.4,1251.7 L231.0,1245.7 L240.0,1241.2 L249.0,1235.2 L258.1,1224.7 L267.1,1214.2 L274.6,1208.2 L285.1,1211.2 L294.1,1209.7 L303.1,1205.2 L312.1,1200.7 L324.1,1198.3 L336.1,1197.7 L345.1,1199.2 L354.1,1194.7 L363.1,1191.1 L372.1,1188.7 L384.1,1185.1 L396.2,1183.6 L408.2,1180.6 L420.2,1177.3 L432.2,1175.2 L444.2,1172.2 L456.2,1173.1 L468.2,1174.3 L480.2,1175.2 L492.2,1173.1 L504.2,1171.6 L516.2,1172.2 L528.2,1176.7 L540.3,1185.7 L555.3,1196.2 L567.3,1209.7 L579.3,1221.7 L591.3,1235.2 L603.3,1253.2 L612.3,1265.2 L620.0,1269.7 L629.0,1275.7 L638.0,1269.7 L647.0,1254.7 L657.5,1227.7 L666.5,1206.7 L672.5,1200.7 L680.0,1182.7 L689.0,1158.7 L698.1,1137.6 L710.1,1107.6 L719.1,1086.6 L725.1,1098.6 L732.6,1113.6 L738.6,1152.7 L743.1,1182.7 L750.6,1200.7 L756.6,1233.7 L763.5,1287.7 L771.6,1278.7 L779.1,1227.7 L786.6,1155.7 L792.6,1122.6 L800.1,1059.6 L807.6,1005.6 L815.1,960.5 L821.1,939.5 L830.1,921.5 L836.2,891.5 L842.2,858.4 L848.2,819.4 L854.2,844.9 L858.7,897.5 L864.7,984.5 L869.2,1059.6 L873.7,1095.6 L881.2,1113.6 L891.7,1128.6 L896.2,1122.6 L905.2,1131.6 L917.2,1143.6 L932.2,1155.7 L944.2,1163.2 L959.2,1170.7 L977.3,1181.2 L992.3,1191.7 L1007.3,1202.2 L1019.3,1215.7 L1031.3,1230.7 L1043.3,1245.7 L1052.3,1254.7 L1060.0,1256.2 L1069.0,1251.7 L1078.0,1236.7 L1090.0,1209.7 L1099.0,1185.7 L1108.0,1166.2 L1114.0,1160.2 L1123.0,1173.7 L1132.1,1179.7 L1138.1,1179.7 L1144.1,1158.7 L1148.6,1119.6 L1154.6,1080.6 L1160.6,1062.6 L1168.1,1085.1 L1177.1,1098.6 L1186.1,1107.6 L1195.1,1122.6 L1204.1,1149.7 L1210.1,1179.7 L1216.1,1206.7 L1222.1,1230.7 L1228.1,1215.7 L1234.1,1179.7 L1243.1,1179.7 L1252.1,1176.7 L1258.1,1143.6 L1264.1,1107.6 L1270.1,1107.6 L1276.2,1109.1 L1282.2,1077.6 L1288.2,1073.1 L1294.2,1083.6 L1300.2,1107.6 L1306.2,1155.7 L1315.2,1176.7 L1324.2,1185.7 L1336.2,1194.7 L1348.2,1205.2 L1360.2,1212.7 L1372.2,1223.2 L1384.2,1226.2 L1396.2,1224.7 L1408.2,1223.2 L1417.3,1226.2 L1426.3,1230.7 L1438.3,1227.7 L1450.3,1230.7 L1462.3,1233.7 L1474.3,1237.6 L1483.3,1236.7 L1492.3,1226.2 L1500.0,1220.2 L1515.0,1211.2 L1528.5,1197.7 L1537.5,1193.2 L1552.5,1200.7 L1564.5,1191.7 L1576.6,1184.2 L1584.1,1188.7 L1588.6,1197.7 L1599.1,1169.2 L1605.1,1172.2 L1612.6,1158.1 L1618.6,1161.7 L1626.1,1146.7 L1638.1,1140.6 L1650.1,1136.1 L1662.1,1149.7 L1668.1,1137.6 L1680.1,1124.1 L1692.1,1118.1 L1699.6,1134.6 L1710.1,1161.7 L1717.7,1167.7 L1723.7,1149.7 L1731.2,1113.6 L1740.2,1092.6 L1747.7,1088.1 L1753.7,1094.1 L1761.2,1149.7 L1767.2,1185.7 L1776.2,1205.2 L1788.2,1227.7 L1800.2,1257.7 L1809.2,1280.2 L1815.2,1277.2 L1821.2,1266.7 L1827.2,1307.3 L1833.2,1274.2 L1839.2,1269.7 L1845.2,1272.7 L1857.3,1286.2 L1866.3,1280.2 L1878.3,1277.2 L1890.3,1269.7 L1902.3,1266.7 L1914.3,1260.7 L1923.3,1256.2 L1932.3,1250.2 L1944.3,1244.2" stroke="#ffd700" stroke-width="2.8" stroke-opacity="0.7"/>
<path d="M186.6,1245.4 L193.5,1241.5 L200.4,1237.9 L207.0,1240.0 L212.4,1243.0 L218.4,1253.5 L224.4,1255.0 L231.0,1249.0 L240.0,1244.5 L249.0,1238.5 L258.1,1228.0 L267.1,1217.5 L274.6,1211.5 L285.1,1214.5 L294.1,1213.0 L303.1,1208.5 L312.1,1204.0 L324.1,1201.6 L336.1,1201.0 L345.1,1202.5 L354.1,1198.0 L363.1,1194.4 L372.1,1192.0 L384.1,1188.4 L396.2,1186.9 L408.2,1183.9 L420.2,1180.6 L432.2,1178.5 L444.2,1175.5 L456.2,1176.4 L468.2,1177.6 L480.2,1178.5 L492.2,1176.4 L504.2,1174.9 L516.2,1175.5 L528.2,1180.0 L540.3,1189.0 L555.3,1199.5 L567.3,1213.0 L579.3,1225.0 L591.3,1238.5 L603.3,1256.5 L612.3,1268.5 L620.0,1273.0 L629.0,1279.0 L638.0,1273.0 L647.0,1258.0 L657.5,1231.0 L666.5,1210.0 L672.5,1204.0 L680.0,1186.0 L689.0,1162.0 L698.1,1140.9 L710.1,1110.9 L719.1,1089.9 L725.1,1101.9 L732.6,1116.9 L738.6,1156.0 L743.1,1186.0 L750.6,1204.0 L756.6,1237.0 L763.5,1291.0 L771.6,1282.0 L779.1,1231.0 L786.6,1159.0 L792.6,1125.9 L800.1,1062.9 L807.6,1008.9 L815.1,963.8 L821.1,942.8 L830.1,924.8 L836.2,894.8 L842.2,861.7 L848.2,822.7 L854.2,848.2 L858.7,900.8 L864.7,987.8 L869.2,1062.9 L873.7,1098.9 L881.2,1116.9 L891.7,1131.9 L896.2,1125.9 L905.2,1134.9 L917.2,1146.9 L932.2,1159.0 L944.2,1166.5 L959.2,1174.0 L977.3,1184.5 L992.3,1195.0 L1007.3,1205.5 L1019.3,1219.0 L1031.3,1234.0 L1043.3,1249.0 L1052.3,1258.0 L1060.0,1259.5 L1069.0,1255.0 L1078.0,1240.0 L1090.0,1213.0 L1099.0,1189.0 L1108.0,1169.5 L1114.0,1163.5 L1123.0,1177.0 L1132.1,1183.0 L1138.1,1183.0 L1144.1,1162.0 L1148.6,1122.9 L1154.6,1083.9 L1160.6,1065.9 L1168.1,1088.4 L1177.1,1101.9 L1186.1,1110.9 L1195.1,1125.9 L1204.1,1153.0 L1210.1,1183.0 L1216.1,1210.0 L1222.1,1234.0 L1228.1,1219.0 L1234.1,1183.0 L1243.1,1183.0 L1252.1,1180.0 L1258.1,1146.9 L1264.1,1110.9 L1270.1,1110.9 L1276.2,1112.4 L1282.2,1080.9 L1288.2,1076.4 L1294.2,1086.9 L1300.2,1110.9 L1306.2,1159.0 L1315.2,1180.0 L1324.2,1189.0 L1336.2,1198.0 L1348.2,1208.5 L1360.2,1216.0 L1372.2,1226.5 L1384.2,1229.5 L1396.2,1228.0 L1408.2,1226.5 L1417.3,1229.5 L1426.3,1234.0 L1438.3,1231.0 L1450.3,1234.0 L1462.3,1237.0 L1474.3,1240.9 L1483.3,1240.0 L1492.3,1229.5 L1500.0,1223.5 L1515.0,1214.5 L1528.5,1201.0 L1537.5,1196.5 L1552.5,1204.0 L1564.5,1195.0 L1576.6,1187.5 L1584.1,1192.0 L1588.6,1201.0 L1599.1,1172.5 L1605.1,1175.5 L1612.6,1161.4 L1618.6,1165.0 L1626.1,1150.0 L1638.1,1143.9 L1650.1,1139.4 L1662.1,1153.0 L1668.1,1140.9 L1680.1,1127.4 L1692.1,1121.4 L1699.6,1137.9 L1710.1,1165.0 L1717.7,1171.0 L1723.7,1153.0 L1731.2,1116.9 L1740.2,1095.9 L1747.7,1091.4 L1753.7,1097.4 L1761.2,1153.0 L1767.2,1189.0 L1776.2,1208.5 L1788.2,1231.0 L1800.2,1261.0 L1809.2,1283.5 L1815.2,1280.5 L1821.2,1270.0 L1827.2,1310.6 L1833.2,1277.5 L1839.2,1273.0 L1845.2,1276.0 L1857.3,1289.5 L1866.3,1283.5 L1878.3,1280.5 L1890.3,1273.0 L1902.3,1270.0 L1914.3,1264.0 L1923.3,1259.5 L1932.3,1253.5 L1944.3,1247.5" stroke="#ffd700" stroke-width="2.8" stroke-opacity="0.72"/>
<path d="M186.6,1219.3 L193.5,1215.4 L200.4,1212.4 L207.0,1213.3 L212.4,1215.4 L218.4,1219.9 L224.4,1216.9 L231.0,1210.9 L240.0,1206.4 L249.0,1200.4 L258.1,1192.9 L267.1,1183.9 L274.6,1177.3 L285.1,1174.9 L294.1,1170.4 L303.1,1166.5 L312.1,1162.9 L324.1,1160.8 L333.1,1161.4 L342.1,1162.9 L348.1,1161.4 L357.1,1159.0 L366.1,1158.4 L375.1,1154.5 L384.1,1150.3 L396.2,1146.4 L408.2,1141.2 L420.2,1136.4 L432.2,1132.8 L444.2,1128.9 L453.2,1126.8 L462.2,1127.4 L474.2,1129.8 L486.2,1125.9 L498.2,1126.8 L510.2,1128.3 L519.2,1129.8 L528.2,1135.8 L543.3,1146.4 L555.3,1159.9 L567.3,1180.9 L576.3,1189.9 L588.3,1201.9 L600.3,1213.9 L612.3,1224.4 L620.0,1231.9 L633.5,1237.9 L641.0,1231.9 L650.0,1213.9 L657.5,1195.9 L665.0,1174.9 L672.5,1167.4 L678.5,1162.9 L684.5,1138.8 L690.5,1117.8 L701.1,1093.8 L710.1,1081.8 L716.1,1065.3 L722.1,1033.8 L731.1,1011.3 L734.1,997.7 L740.1,967.7 L744.6,943.7 L750.6,946.7 L758.1,934.7 L765.6,919.7 L771.6,917.3 L776.1,921.2 L782.1,940.7 L787.5,961.7 L793.5,937.7 L800.1,910.7 L807.6,898.7 L813.6,897.2 L821.1,885.2 L825.6,877.7 L831.6,862.7 L837.7,850.6 L842.2,850.6 L848.2,861.2 L852.7,874.7 L857.2,907.7 L861.7,952.7 L867.7,1021.8 L872.2,1072.8 L884.2,1093.8 L893.2,1111.8 L902.2,1120.8 L914.2,1135.8 L926.2,1152.4 L938.2,1168.9 L950.2,1183.9 L962.2,1198.9 L974.2,1210.9 L989.3,1222.9 L1004.3,1230.4 L1019.3,1234.9 L1034.3,1237.9 L1046.3,1234.9 L1060.0,1227.4 L1072.0,1207.9 L1084.0,1183.9 L1093.0,1165.9 L1102.0,1155.4 L1112.5,1150.9 L1118.5,1155.4 L1124.5,1167.4 L1132.1,1176.4 L1136.6,1180.9 L1142.6,1159.9 L1147.1,1126.8 L1153.1,1111.8 L1162.1,1090.8 L1168.1,1090.8 L1175.6,1105.8 L1181.6,1117.8 L1189.1,1120.8 L1196.6,1110.3 L1202.6,1116.3 L1210.1,1147.9 L1216.1,1171.9 L1222.1,1162.9 L1228.1,1126.8 L1233.5,1096.8 L1243.1,1098.3 L1252.1,1107.3 L1258.1,1093.8 L1264.1,1098.3 L1270.1,1095.3 L1276.2,1101.3 L1282.2,1057.8 L1288.2,1050.3 L1294.2,1054.8 L1300.2,1072.8 L1306.2,1102.8 L1312.2,1129.8 L1321.2,1137.3 L1330.2,1143.3 L1339.2,1152.4 L1348.2,1158.4 L1357.2,1165.9 L1363.2,1176.4 L1369.2,1174.9 L1375.2,1170.4 L1384.2,1173.4 L1399.2,1173.4 L1411.2,1176.4 L1423.3,1180.9 L1438.3,1179.4 L1450.3,1176.4 L1462.3,1171.9 L1468.3,1168.9 L1483.3,1170.4 L1492.3,1164.4 L1500.0,1164.4 L1509.0,1159.9 L1530.0,1160.5 L1539.0,1163.5 L1548.0,1170.4 L1555.5,1174.9 L1569.0,1167.4 L1584.1,1164.4 L1593.1,1161.4 L1602.1,1150.9 L1611.1,1137.3 L1620.1,1119.3 L1629.1,1119.3 L1635.1,1114.8 L1643.5,1108.2 L1651.6,1117.8 L1662.1,1129.8 L1680.1,1117.8 L1692.1,1123.8 L1699.6,1138.8 L1705.6,1132.8 L1716.2,1146.4 L1723.7,1156.9 L1729.7,1153.9 L1735.7,1177.9 L1741.7,1185.4 L1749.2,1176.4 L1755.2,1165.9 L1761.2,1149.4 L1770.2,1147.9 L1779.2,1153.9 L1785.2,1164.4 L1792.7,1180.9 L1800.2,1189.9 L1809.2,1203.4 L1815.2,1195.9 L1821.2,1191.4 L1827.2,1245.4 L1833.2,1225.9 L1839.2,1203.4 L1845.2,1206.4 L1857.3,1222.9 L1864.8,1213.9 L1878.3,1219.9 L1893.3,1225.9 L1905.3,1229.8 L1914.3,1230.4 L1926.3,1227.4 L1935.3,1224.4 L1944.3,1222.9" stroke="#ff8c00" stroke-width="2.8" stroke-opacity="0.7"/>
<path d="M186.6,1220.3 L193.5,1216.4 L200.4,1213.4 L207.0,1214.3 L212.4,1216.4 L218.4,1220.9 L224.4,1217.9 L231.0,1211.9 L240.0,1207.4 L249.0,1201.4 L258.1,1193.9 L267.1,1184.9 L274.6,1178.3 L285.1,1175.9 L294.1,1171.4 L303.1,1167.5 L312.1,1163.9 L324.1,1161.8 L333.1,1162.4 L342.1,1163.9 L348.1,1162.4 L357.1,1160.0 L366.1,1159.4 L375.1,1155.5 L384.1,1151.3 L396.2,1147.4 L408.2,1142.2 L420.2,1137.4 L432.2,1133.8 L444.2,1129.9 L453.2,1127.8 L462.2,1128.4 L474.2,1130.8 L486.2,1126.9 L498.2,1127.8 L510.2,1129.3 L519.2,1130.8 L528.2,1136.8 L543.3,1147.4 L555.3,1160.9 L567.3,1181.9 L576.3,1190.9 L588.3,1202.9 L600.3,1214.9 L612.3,1225.4 L620.0,1232.9 L633.5,1238.9 L641.0,1232.9 L650.0,1214.9 L657.5,1196.9 L665.0,1175.9 L672.5,1168.4 L678.5,1163.9 L684.5,1139.8 L690.5,1118.8 L701.1,1094.8 L710.1,1082.8 L716.1,1066.3 L722.1,1034.8 L731.1,1012.3 L734.1,998.7 L740.1,968.7 L744.6,944.7 L750.6,947.7 L758.1,935.7 L765.6,920.7 L771.6,918.3 L776.1,922.2 L782.1,941.7 L787.5,962.7 L793.5,938.7 L800.1,911.7 L807.6,899.7 L813.6,898.2 L821.1,886.2 L825.6,878.7 L831.6,863.7 L837.7,851.6 L842.2,851.6 L848.2,862.2 L852.7,875.7 L857.2,908.7 L861.7,953.7 L867.7,1022.8 L872.2,1073.8 L884.2,1094.8 L893.2,1112.8 L902.2,1121.8 L914.2,1136.8 L926.2,1153.4 L938.2,1169.9 L950.2,1184.9 L962.2,1199.9 L974.2,1211.9 L989.3,1223.9 L1004.3,1231.4 L1019.3,1235.9 L1034.3,1238.9 L1046.3,1235.9 L1060.0,1228.4 L1072.0,1208.9 L1084.0,1184.9 L1093.0,1166.9 L1102.0,1156.4 L1112.5,1151.9 L1118.5,1156.4 L1124.5,1168.4 L1132.1,1177.4 L1136.6,1181.9 L1142.6,1160.9 L1147.1,1127.8 L1153.1,1112.8 L1162.1,1091.8 L1168.1,1091.8 L1175.6,1106.8 L1181.6,1118.8 L1189.1,1121.8 L1196.6,1111.3 L1202.6,1117.3 L1210.1,1148.9 L1216.1,1172.9 L1222.1,1163.9 L1228.1,1127.8 L1233.5,1097.8 L1243.1,1099.3 L1252.1,1108.3 L1258.1,1094.8 L1264.1,1099.3 L1270.1,1096.3 L1276.2,1102.3 L1282.2,1058.8 L1288.2,1051.3 L1294.2,1055.8 L1300.2,1073.8 L1306.2,1103.8 L1312.2,1130.8 L1321.2,1138.3 L1330.2,1144.3 L1339.2,1153.4 L1348.2,1159.4 L1357.2,1166.9 L1363.2,1177.4 L1369.2,1175.9 L1375.2,1171.4 L1384.2,1174.4 L1399.2,1174.4 L1411.2,1177.4 L1423.3,1181.9 L1438.3,1180.4 L1450.3,1177.4 L1462.3,1172.9 L1468.3,1169.9 L1483.3,1171.4 L1492.3,1165.4 L1500.0,1165.4 L1509.0,1160.9 L1530.0,1161.5 L1539.0,1164.5 L1548.0,1171.4 L1555.5,1175.9 L1569.0,1168.4 L1584.1,1165.4 L1593.1,1162.4 L1602.1,1151.9 L1611.1,1138.3 L1620.1,1120.3 L1629.1,1120.3 L1635.1,1115.8 L1643.5,1109.2 L1651.6,1118.8 L1662.1,1130.8 L1680.1,1118.8 L1692.1,1124.8 L1699.6,1139.8 L1705.6,1133.8 L1716.2,1147.4 L1723.7,1157.9 L1729.7,1154.9 L1735.7,1178.9 L1741.7,1186.4 L1749.2,1177.4 L1755.2,1166.9 L1761.2,1150.4 L1770.2,1148.9 L1779.2,1154.9 L1785.2,1165.4 L1792.7,1181.9 L1800.2,1190.9 L1809.2,1204.4 L1815.2,1196.9 L1821.2,1192.4 L1827.2,1246.4 L1833.2,1226.9 L1839.2,1204.4 L1845.2,1207.4 L1857.3,1223.9 L1864.8,1214.9 L1878.3,1220.9 L1893.3,1226.9 L1905.3,1230.8 L1914.3,1231.4 L1926.3,1228.4 L1935.3,1225.4 L1944.3,1223.9" stroke="#ff8c00" stroke-width="2.8" stroke-opacity="0.7"/>
<path d="M186.6,1221.1 L193.5,1217.2 L200.4,1214.2 L207.0,1215.1 L212.4,1217.2 L218.4,1221.7 L224.4,1218.7 L231.0,1212.7 L240.0,1208.2 L249.0,1202.2 L258.1,1194.7 L267.1,1185.7 L274.6,1179.1 L285.1,1176.7 L294.1,1172.2 L303.1,1168.3 L312.1,1164.7 L324.1,1162.6 L333.1,1163.2 L342.1,1164.7 L348.1,1163.2 L357.1,1160.8 L366.1,1160.2 L375.1,1156.3 L384.1,1152.1 L396.2,1148.2 L408.2,1143.0 L420.2,1138.2 L432.2,1134.6 L444.2,1130.7 L453.2,1128.6 L462.2,1129.2 L474.2,1131.6 L486.2,1127.7 L498.2,1128.6 L510.2,1130.1 L519.2,1131.6 L528.2,1137.6 L543.3,1148.2 L555.3,1161.7 L567.3,1182.7 L576.3,1191.7 L588.3,1203.7 L600.3,1215.7 L612.3,1226.2 L620.0,1233.7 L633.5,1239.7 L641.0,1233.7 L650.0,1215.7 L657.5,1197.7 L665.0,1176.7 L672.5,1169.2 L678.5,1164.7 L684.5,1140.6 L690.5,1119.6 L701.1,1095.6 L710.1,1083.6 L716.1,1067.1 L722.1,1035.6 L731.1,1013.1 L734.1,999.5 L740.1,969.5 L744.6,945.5 L750.6,948.5 L758.1,936.5 L765.6,921.5 L771.6,919.1 L776.1,923.0 L782.1,942.5 L787.5,963.5 L793.5,939.5 L800.1,912.5 L807.6,900.5 L813.6,899.0 L821.1,887.0 L825.6,879.5 L831.6,864.5 L837.7,852.4 L842.2,852.4 L848.2,863.0 L852.7,876.5 L857.2,909.5 L861.7,954.5 L867.7,1023.6 L872.2,1074.6 L884.2,1095.6 L893.2,1113.6 L902.2,1122.6 L914.2,1137.6 L926.2,1154.2 L938.2,1170.7 L950.2,1185.7 L962.2,1200.7 L974.2,1212.7 L989.3,1224.7 L1004.3,1232.2 L1019.3,1236.7 L1034.3,1239.7 L1046.3,1236.7 L1060.0,1229.2 L1072.0,1209.7 L1084.0,1185.7 L1093.0,1167.7 L1102.0,1157.2 L1112.5,1152.7 L1118.5,1157.2 L1124.5,1169.2 L1132.1,1178.2 L1136.6,1182.7 L1142.6,1161.7 L1147.1,1128.6 L1153.1,1113.6 L1162.1,1092.6 L1168.1,1092.6 L1175.6,1107.6 L1181.6,1119.6 L1189.1,1122.6 L1196.6,1112.1 L1202.6,1118.1 L1210.1,1149.7 L1216.1,1173.7 L1222.1,1164.7 L1228.1,1128.6 L1233.5,1098.6 L1243.1,1100.1 L1252.1,1109.1 L1258.1,1095.6 L1264.1,1100.1 L1270.1,1097.1 L1276.2,1103.1 L1282.2,1059.6 L1288.2,1052.1 L1294.2,1056.6 L1300.2,1074.6 L1306.2,1104.6 L1312.2,1131.6 L1321.2,1139.1 L1330.2,1145.1 L1339.2,1154.2 L1348.2,1160.2 L1357.2,1167.7 L1363.2,1178.2 L1369.2,1176.7 L1375.2,1172.2 L1384.2,1175.2 L1399.2,1175.2 L1411.2,1178.2 L1423.3,1182.7 L1438.3,1181.2 L1450.3,1178.2 L1462.3,1173.7 L1468.3,1170.7 L1483.3,1172.2 L1492.3,1166.2 L1500.0,1166.2 L1509.0,1161.7 L1530.0,1162.3 L1539.0,1165.3 L1548.0,1172.2 L1555.5,1176.7 L1569.0,1169.2 L1584.1,1166.2 L1593.1,1163.2 L1602.1,1152.7 L1611.1,1139.1 L1620.1,1121.1 L1629.1,1121.1 L1635.1,1116.6 L1643.5,1110.0 L1651.6,1119.6 L1662.1,1131.6 L1680.1,1119.6 L1692.1,1125.6 L1699.6,1140.6 L1705.6,1134.6 L1716.2,1148.2 L1723.7,1158.7 L1729.7,1155.7 L1735.7,1179.7 L1741.7,1187.2 L1749.2,1178.2 L1755.2,1167.7 L1761.2,1151.2 L1770.2,1149.7 L1779.2,1155.7 L1785.2,1166.2 L1792.7,1182.7 L1800.2,1191.7 L1809.2,1205.2 L1815.2,1197.7 L1821.2,1193.2 L1827.2,1247.2 L1833.2,1227.7 L1839.2,1205.2 L1845.2,1208.2 L1857.3,1224.7 L1864.8,1215.7 L1878.3,1221.7 L1893.3,1227.7 L1905.3,1231.6 L1914.3,1232.2 L1926.3,1229.2 L1935.3,1226.2 L1944.3,1224.7" stroke="#ff8c00" stroke-width="2.8" stroke-opacity="0.7"/>
<path d="M186.6,1224.4 L193.5,1220.5 L200.4,1217.5 L207.0,1218.4 L212.4,1220.5 L218.4,1225.0 L224.4,1222.0 L231.0,1216.0 L240.0,1211.5 L249.0,1205.5 L258.1,1198.0 L267.1,1189.0 L274.6,1182.4 L285.1,1180.0 L294.1,1175.5 L303.1,1171.6 L312.1,1168.0 L324.1,1165.9 L333.1,1166.5 L342.1,1168.0 L348.1,1166.5 L357.1,1164.1 L366.1,1163.5 L375.1,1159.6 L384.1,1155.4 L396.2,1151.5 L408.2,1146.3 L420.2,1141.5 L432.2,1137.9 L444.2,1134.0 L453.2,1131.9 L462.2,1132.5 L474.2,1134.9 L486.2,1131.0 L498.2,1131.9 L510.2,1133.4 L519.2,1134.9 L528.2,1140.9 L543.3,1151.5 L555.3,1165.0 L567.3,1186.0 L576.3,1195.0 L588.3,1207.0 L600.3,1219.0 L612.3,1229.5 L620.0,1237.0 L633.5,1243.0 L641.0,1237.0 L650.0,1219.0 L657.5,1201.0 L665.0,1180.0 L672.5,1172.5 L678.5,1168.0 L684.5,1143.9 L690.5,1122.9 L701.1,1098.9 L710.1,1086.9 L716.1,1070.4 L722.1,1038.9 L731.1,1016.4 L734.1,1002.8 L740.1,972.8 L744.6,948.8 L750.6,951.8 L758.1,939.8 L765.6,924.8 L771.6,922.4 L776.1,926.3 L782.1,945.8 L787.5,966.8 L793.5,942.8 L800.1,915.8 L807.6,903.8 L813.6,902.3 L821.1,890.3 L825.6,882.8 L831.6,867.8 L837.7,855.7 L842.2,855.7 L848.2,866.3 L852.7,879.8 L857.2,912.8 L861.7,957.8 L867.7,1026.9 L872.2,1077.9 L884.2,1098.9 L893.2,1116.9 L902.2,1125.9 L914.2,1140.9 L926.2,1157.5 L938.2,1174.0 L950.2,1189.0 L962.2,1204.0 L974.2,1216.0 L989.3,1228.0 L1004.3,1235.5 L1019.3,1240.0 L1034.3,1243.0 L1046.3,1240.0 L1060.0,1232.5 L1072.0,1213.0 L1084.0,1189.0 L1093.0,1171.0 L1102.0,1160.5 L1112.5,1156.0 L1118.5,1160.5 L1124.5,1172.5 L1132.1,1181.5 L1136.6,1186.0 L1142.6,1165.0 L1147.1,1131.9 L1153.1,1116.9 L1162.1,1095.9 L1168.1,1095.9 L1175.6,1110.9 L1181.6,1122.9 L1189.1,1125.9 L1196.6,1115.4 L1202.6,1121.4 L1210.1,1153.0 L1216.1,1177.0 L1222.1,1168.0 L1228.1,1131.9 L1233.5,1101.9 L1243.1,1103.4 L1252.1,1112.4 L1258.1,1098.9 L1264.1,1103.4 L1270.1,1100.4 L1276.2,1106.4 L1282.2,1062.9 L1288.2,1055.4 L1294.2,1059.9 L1300.2,1077.9 L1306.2,1107.9 L1312.2,1134.9 L1321.2,1142.4 L1330.2,1148.4 L1339.2,1157.5 L1348.2,1163.5 L1357.2,1171.0 L1363.2,1181.5 L1369.2,1180.0 L1375.2,1175.5 L1384.2,1178.5 L1399.2,1178.5 L1411.2,1181.5 L1423.3,1186.0 L1438.3,1184.5 L1450.3,1181.5 L1462.3,1177.0 L1468.3,1174.0 L1483.3,1175.5 L1492.3,1169.5 L1500.0,1169.5 L1509.0,1165.0 L1530.0,1165.6 L1539.0,1168.6 L1548.0,1175.5 L1555.5,1180.0 L1569.0,1172.5 L1584.1,1169.5 L1593.1,1166.5 L1602.1,1156.0 L1611.1,1142.4 L1620.1,1124.4 L1629.1,1124.4 L1635.1,1119.9 L1643.5,1113.3 L1651.6,1122.9 L1662.1,1134.9 L1680.1,1122.9 L1692.1,1128.9 L1699.6,1143.9 L1705.6,1137.9 L1716.2,1151.5 L1723.7,1162.0 L1729.7,1159.0 L1735.7,1183.0 L1741.7,1190.5 L1749.2,1181.5 L1755.2,1171.0 L1761.2,1154.5 L1770.2,1153.0 L1779.2,1159.0 L1785.2,1169.5 L1792.7,1186.0 L1800.2,1195.0 L1809.2,1208.5 L1815.2,1201.0 L1821.2,1196.5 L1827.2,1250.5 L1833.2,1231.0 L1839.2,1208.5 L1845.2,1211.5 L1857.3,1228.0 L1864.8,1219.0 L1878.3,1225.0 L1893.3,1231.0 L1905.3,1234.9 L1914.3,1235.5 L1926.3,1232.5 L1935.3,1229.5 L1944.3,1228.0" stroke="#ff8c00" stroke-width="2.8" stroke-opacity="0.72"/>
</g>
<rect x="100.2" y="790.0" width="1930.70" height="579.80" fill="none" stroke="#000" stroke-width="1.67"/>
<line x1="330.95" y1="1369.8" x2="330.95" y2="1377.10" stroke="#000" stroke-width="1.67"/>
<text x="330.95" y="1400.80" font-size="20.83" text-anchor="middle" textLength="57.22" lengthAdjust="spacingAndGlyphs">−150</text>
<line x1="575.60" y1="1369.8" x2="575.60" y2="1377.10" stroke="#000" stroke-width="1.67"/>
<text x="575.60" y="1400.80" font-size="20.83" text-anchor="middle" textLength="57.22" lengthAdjust="spacingAndGlyphs">−100</text>
<line x1="820.25" y1="1369.8" x2="820.25" y2="1377.10" stroke="#000" stroke-width="1.67"/>
<text x="820.25" y="1400.80" font-size="20.83" text-anchor="middle" textLength="43.97" lengthAdjust="spacingAndGlyphs">−50</text>
<line x1="1064.90" y1="1369.8" x2="1064.90" y2="1377.10" stroke="#000" stroke-width="1.67"/>
<text x="1064.90" y="1400.80" font-size="20.83" text-anchor="middle" textLength="13.25" lengthAdjust="spacingAndGlyphs">0</text>
<line x1="1309.55" y1="1369.8" x2="1309.55" y2="1377.10" stroke="#000" stroke-width="1.67"/>
<text x="1309.55" y="1400.80" font-size="20.83" text-anchor="middle" textLength="26.51" lengthAdjust="spacingAndGlyphs">50</text>
<line x1="1554.20" y1="1369.8" x2="1554.20" y2="1377.10" stroke="#000" stroke-width="1.67"/>
<text x="1554.20" y="1400.80" font-size="20.83" text-anchor="middle" textLength="39.76" lengthAdjust="spacingAndGlyphs">100</text>
<line x1="1798.85" y1="1369.8" x2="1798.85" y2="1377.10" stroke="#000" stroke-width="1.67"/>
<text x="1798.85" y="1400.80" font-size="20.83" text-anchor="middle" textLength="39.76" lengthAdjust="spacingAndGlyphs">150</text>
<line x1="92.90" y1="1342.04" x2="100.2" y2="1342.04" stroke="#000" stroke-width="1.67"/>
<text x="85.60" y="1350.24" font-size="20.83" text-anchor="end" textLength="50.59" lengthAdjust="spacingAndGlyphs">−0.6</text>
<line x1="92.90" y1="1257.66" x2="100.2" y2="1257.66" stroke="#000" stroke-width="1.67"/>
<text x="85.60" y="1265.86" font-size="20.83" text-anchor="end" textLength="50.59" lengthAdjust="spacingAndGlyphs">−0.4</text>
<line x1="92.90" y1="1173.28" x2="100.2" y2="1173.28" stroke="#000" stroke-width="1.67"/>
<text x="85.60" y="1181.48" font-size="20.83" text-anchor="end" textLength="50.59" lengthAdjust="spacingAndGlyphs">−0.2</text>
<line x1="92.90" y1="1088.90" x2="100.2" y2="1088.90" stroke="#000" stroke-width="1.67"/>
<text x="85.60" y="1097.10" font-size="20.83" text-anchor="end" textLength="33.13" lengthAdjust="spacingAndGlyphs">0.0</text>
<line x1="92.90" y1="1004.52" x2="100.2" y2="1004.52" stroke="#000" stroke-width="1.67"/>
<text x="85.60" y="1012.72" font-size="20.83" text-anchor="end" textLength="33.13" lengthAdjust="spacingAndGlyphs">0.2</text>
<line x1="92.90" y1="920.14" x2="100.2" y2="920.14" stroke="#000" stroke-width="1.67"/>
<text x="85.60" y="928.34" font-size="20.83" text-anchor="end" textLength="33.13" lengthAdjust="spacingAndGlyphs">0.4</text>
<line x1="92.90" y1="835.76" x2="100.2" y2="835.76" stroke="#000" stroke-width="1.67"/>
<text x="85.60" y="843.96" font-size="20.83" text-anchor="end" textLength="33.13" lengthAdjust="spacingAndGlyphs">0.6</text>
<text x="1065.50" y="778.00" font-size="25.00" text-anchor="middle" textLength="1145.87" lengthAdjust="spacingAndGlyphs">Residuals (Normalized SWGNT - Normalized Gravity) by Longitude — Equator–Hadley South</text>
<text x="1065.50" y="1429.10" font-size="20.83" text-anchor="middle" textLength="150.08" lengthAdjust="spacingAndGlyphs">Longitude (°E)</text>
<text x="21.80" y="1081.00" font-size="20.83" text-anchor="middle" textLength="288.89" lengthAdjust="spacingAndGlyphs" transform="rotate(-90 21.80 1081.00)">Residual (Normalized Units)</text>
<rect x="1445.2" y="802.0" width="574.00" height="125.40" rx="4.2" ry="4.2" fill="#fff" fill-opacity="0.8" stroke="#ccc" stroke-opacity="0.8" stroke-width="2.08"/>
<line x1="1453.70" y1="817.80" x2="1495.37" y2="817.80" stroke="#00ff7f" stroke-width="3.125"/>
<text x="1512.70" y="825.20" font-size="20.83" text-anchor="start" textLength="50.20" lengthAdjust="spacingAndGlyphs">MAM</text>
<line x1="1453.70" y1="847.80" x2="1495.37" y2="847.80" stroke="#4169e1" stroke-width="3.125"/>
<text x="1512.70" y="855.20" font-size="20.83" text-anchor="start" textLength="34.17" lengthAdjust="spacingAndGlyphs">DJF</text>
<line x1="1453.70" y1="878.40" x2="1495.37" y2="878.40" stroke="#ffd700" stroke-width="3.125"/>
<text x="1512.70" y="885.80" font-size="20.83" text-anchor="start" textLength="26.17" lengthAdjust="spacingAndGlyphs">JJA</text>
<line x1="1453.70" y1="908.40" x2="1495.37" y2="908.40" stroke="#ff8c00" stroke-width="3.125"/>
<text x="1512.70" y="915.80" font-size="20.83" text-anchor="start" textLength="45.21" lengthAdjust="spacingAndGlyphs">SON</text>
<line x1="1603.70" y1="817.80" x2="1645.37" y2="817.80" stroke="#00ff7f" stroke-width="3.125"/>
<text x="1662.70" y="825.20" font-size="20.83" text-anchor="start" textLength="50.20" lengthAdjust="spacingAndGlyphs">MAM</text>
<line x1="1603.70" y1="847.80" x2="1645.37" y2="847.80" stroke="#4169e1" stroke-width="3.125"/>
<text x="1662.70" y="855.20" font-size="20.83" text-anchor="start" textLength="34.17" lengthAdjust="spacingAndGlyphs">DJF</text>
<line x1="1603.70" y1="878.40" x2="1645.37" y2="878.40" stroke="#ffd700" stroke-width="3.125"/>
<text x="1662.70" y="885.80" font-size="20.83" text-anchor="start" textLength="26.17" lengthAdjust="spacingAndGlyphs">JJA</text>
<line x1="1603.70" y1="908.40" x2="1645.37" y2="908.40" stroke="#ff8c00" stroke-width="3.125"/>
<text x="1662.70" y="915.80" font-size="20.83" text-anchor="start" textLength="45.21" lengthAdjust="spacingAndGlyphs">SON</text>
<line x1="1753.70" y1="817.80" x2="1795.37" y2="817.80" stroke="#00ff7f" stroke-width="3.125"/>
<text x="1812.70" y="825.20" font-size="20.83" text-anchor="start" textLength="50.20" lengthAdjust="spacingAndGlyphs">MAM</text>
<line x1="1753.70" y1="847.80" x2="1795.37" y2="847.80" stroke="#4169e1" stroke-width="3.125"/>
<text x="1812.70" y="855.20" font-size="20.83" text-anchor="start" textLength="34.17" lengthAdjust="spacingAndGlyphs">DJF</text>
<line x1="1753.70" y1="878.40" x2="1795.37" y2="878.40" stroke="#ffd700" stroke-width="3.125"/>
<text x="1812.70" y="885.80" font-size="20.83" text-anchor="start" textLength="26.17" lengthAdjust="spacingAndGlyphs">JJA</text>
<line x1="1753.70" y1="908.40" x2="1795.37" y2="908.40" stroke="#ff8c00" stroke-width="3.125"/>
<text x="1812.70" y="915.80" font-size="20.83" text-anchor="start" textLength="45.21" lengthAdjust="spacingAndGlyphs">SON</text>
<line x1="1903.70" y1="817.80" x2="1945.37" y2="817.80" stroke="#00ff7f" stroke-width="3.125"/>
<text x="1962.70" y="825.20" font-size="20.83" text-anchor="start" textLength="50.20" lengthAdjust="spacingAndGlyphs">MAM</text>
<line x1="1903.70" y1="847.80" x2="1945.37" y2="847.80" stroke="#4169e1" stroke-width="3.125"/>
<text x="1962.70" y="855.20" font-size="20.83" text-anchor="start" textLength="34.17" lengthAdjust="spacingAndGlyphs">DJF</text>
<line x1="1903.70" y1="878.40" x2="1945.37" y2="878.40" stroke="#ffd700" stroke-width="3.125"/>
<text x="1962.70" y="885.80" font-size="20.83" text-anchor="start" textLength="26.17" lengthAdjust="spacingAndGlyphs">JJA</text>
<line x1="1903.70" y1="908.40" x2="1945.37" y2="908.40" stroke="#ff8c00" stroke-width="3.125"/>
<text x="1962.70" y="915.80" font-size="20.83" text-anchor="start" textLength="45.21" lengthAdjust="spacingAndGlyphs">SON</text>
<line x1="333.90" y1="1478.7" x2="333.90" y2="2058.9" stroke="#b0b0b0" stroke-width="1.67"/>
<line x1="578.25" y1="1478.7" x2="578.25" y2="2058.9" stroke="#b0b0b0" stroke-width="1.67"/>
<line x1="822.60" y1="1478.7" x2="822.60" y2="2058.9" stroke="#b0b0b0" stroke-width="1.67"/>
<line x1="1066.95" y1="1478.7" x2="1066.95" y2="2058.9" stroke="#b0b0b0" stroke-width="1.67"/>
<line x1="1311.30" y1="1478.7" x2="1311.30" y2="2058.9" stroke="#b0b0b0" stroke-width="1.67"/>
<line x1="1555.65" y1="1478.7" x2="1555.65" y2="2058.9" stroke="#b0b0b0" stroke-width="1.67"/>
<line x1="1800.00" y1="1478.7" x2="1800.00" y2="2058.9" stroke="#b0b0b0" stroke-width="1.67"/>
<line x1="100.2" y1="2055.00" x2="2030.9" y2="2055.00" stroke="#b0b0b0" stroke-width="1.67"/>
<line x1="100.2" y1="1935.72" x2="2030.9" y2="1935.72" stroke="#b0b0b0" stroke-width="1.67"/>
<line x1="100.2" y1="1816.44" x2="2030.9" y2="1816.44" stroke="#b0b0b0" stroke-width="1.67"/>
<line x1="100.2" y1="1697.16" x2="2030.9" y2="1697.16" stroke="#b0b0b0" stroke-width="1.67"/>
<line x1="100.2" y1="1577.88" x2="2030.9" y2="1577.88" stroke="#b0b0b0" stroke-width="1.67"/>
<g clip-path="url(#botclip)" fill="none" stroke-linejoin="round">
<path d="M186.6,1651.6 L204.0,1643.5 L219.0,1640.5 L232.5,1638.7 L243.0,1633.6 L258.1,1626.1 L270.1,1617.1 L285.1,1611.1 L300.1,1604.5 L312.1,1600.6 L327.1,1595.5 L336.1,1588.6 L348.1,1580.5 L360.1,1572.1 L375.1,1560.1 L390.1,1550.5 L408.2,1537.5 L426.2,1527.0 L444.2,1518.0 L462.2,1510.5 L480.2,1506.0 L498.2,1505.4 L516.2,1509.0 L534.2,1516.5 L552.3,1525.5 L570.3,1533.0 L582.3,1539.0 L600.3,1551.1 L620.0,1566.1 L632.0,1575.1 L647.0,1582.6 L656.0,1584.7 L665.0,1584.1 L669.5,1588.6 L675.5,1614.1 L683.0,1635.1 L692.1,1653.1 L699.6,1665.1 L710.1,1661.5 L722.1,1646.5 L725.1,1662.1 L731.1,1674.1 L737.1,1695.2 L749.1,1699.7 L759.6,1678.6 L770.1,1671.1 L776.1,1669.6 L788.1,1680.1 L800.1,1684.6 L812.1,1687.6 L825.6,1690.6 L833.1,1674.1 L848.2,1656.1 L860.2,1635.1 L872.2,1615.6 L878.2,1602.1 L884.2,1579.6 L896.2,1546.5 L911.2,1528.5 L926.2,1515.0 L944.2,1508.4 L959.2,1507.5 L974.2,1510.5 L989.3,1515.0 L1007.3,1524.0 L1025.3,1536.0 L1040.3,1546.5 L1060.0,1566.1 L1072.0,1575.1 L1087.0,1588.6 L1102.0,1594.6 L1111.0,1588.6 L1121.5,1573.6 L1130.5,1590.1 L1136.6,1614.1 L1141.1,1653.1 L1148.6,1654.6 L1156.1,1659.1 L1168.1,1672.6 L1180.1,1676.5 L1192.1,1682.5 L1207.1,1683.1 L1213.1,1671.1 L1222.1,1665.1 L1231.1,1650.1 L1243.1,1632.1 L1255.1,1626.1 L1264.1,1614.1 L1274.7,1600.6 L1280.7,1608.1 L1288.2,1629.1 L1297.2,1629.1 L1309.2,1617.1 L1315.2,1611.1 L1336.2,1608.1 L1360.2,1611.1 L1384.2,1608.1 L1411.2,1605.1 L1429.3,1600.6 L1447.3,1594.6 L1468.3,1593.1 L1486.3,1590.1 L1500.0,1590.1 L1524.0,1592.5 L1539.0,1597.6 L1554.0,1603.6 L1575.1,1608.1 L1590.1,1602.1 L1605.1,1597.6 L1618.6,1596.1 L1626.1,1617.1 L1635.1,1638.1 L1648.6,1650.1 L1656.1,1669.6 L1663.6,1687.6 L1674.1,1685.5 L1686.1,1683.1 L1704.1,1689.1 L1716.2,1680.1 L1728.2,1678.6 L1737.2,1689.1 L1743.2,1695.2 L1755.2,1681.6 L1764.2,1677.1 L1776.2,1662.1 L1791.2,1657.6 L1806.2,1642.6 L1821.2,1633.6 L1836.2,1635.1 L1848.2,1641.1 L1866.3,1642.6 L1884.3,1647.1 L1899.3,1650.1 L1914.3,1653.1 L1926.3,1652.5 L1942.8,1653.1" stroke="#4169e1" stroke-width="3.125" stroke-dasharray="11.56 5.0"/>
<path d="M186.6,1887.9 L198.0,1883.7 L204.0,1879.8 L216.0,1877.7 L228.0,1875.3 L240.0,1870.8 L255.1,1863.3 L264.1,1857.3 L273.1,1850.7 L282.1,1848.9 L294.1,1842.3 L306.1,1836.3 L318.1,1831.7 L330.1,1825.7 L339.1,1816.7 L351.1,1809.2 L360.1,1803.2 L372.1,1794.2 L384.1,1782.2 L396.2,1773.2 L411.2,1764.2 L426.2,1754.6 L441.2,1747.7 L456.2,1740.2 L471.2,1735.1 L486.2,1732.7 L501.2,1732.7 L516.2,1735.7 L534.2,1743.2 L552.3,1752.2 L570.3,1762.7 L585.3,1774.7 L600.3,1785.2 L612.3,1794.8 L620.0,1798.7 L638.0,1813.7 L653.0,1819.7 L662.0,1817.6 L671.0,1824.2 L678.5,1860.3 L689.0,1875.3 L699.6,1894.8 L710.1,1891.8 L722.1,1867.8 L725.1,1882.8 L731.1,1887.3 L737.1,1905.3 L743.1,1911.3 L749.1,1932.3 L761.1,1921.8 L773.1,1917.3 L788.1,1927.8 L800.1,1926.3 L812.1,1927.8 L825.6,1930.8 L833.1,1911.3 L848.2,1890.3 L860.2,1869.3 L869.2,1852.8 L878.2,1827.2 L890.2,1797.2 L902.2,1776.2 L920.2,1756.7 L935.2,1746.2 L950.2,1742.6 L965.2,1744.7 L980.3,1749.2 L995.3,1756.7 L1010.3,1765.7 L1025.3,1777.7 L1040.3,1791.2 L1060.0,1807.7 L1072.0,1821.2 L1087.0,1833.2 L1099.0,1840.8 L1109.5,1830.2 L1121.5,1813.7 L1132.1,1834.7 L1138.1,1866.3 L1142.6,1888.8 L1150.1,1881.3 L1159.1,1891.8 L1171.1,1909.8 L1183.1,1914.3 L1193.6,1920.3 L1204.1,1914.3 L1216.1,1899.3 L1228.1,1888.8 L1240.1,1866.3 L1252.1,1863.3 L1261.1,1858.8 L1270.1,1843.8 L1276.2,1837.8 L1282.2,1848.3 L1288.2,1864.8 L1297.2,1863.3 L1312.2,1848.3 L1333.2,1843.8 L1354.2,1844.7 L1372.2,1846.8 L1390.2,1845.3 L1414.2,1842.9 L1435.3,1837.8 L1450.3,1831.7 L1471.3,1829.6 L1486.3,1827.2 L1500.0,1825.7 L1524.0,1827.8 L1539.0,1833.2 L1554.0,1840.8 L1572.1,1843.8 L1590.1,1837.8 L1605.1,1831.7 L1618.6,1828.7 L1626.1,1851.3 L1635.1,1870.8 L1647.1,1881.3 L1656.1,1905.3 L1665.1,1923.3 L1680.1,1917.3 L1692.1,1917.9 L1707.1,1921.8 L1722.2,1911.3 L1731.2,1914.3 L1740.2,1927.8 L1744.7,1929.3 L1755.2,1918.8 L1767.2,1908.3 L1779.2,1896.3 L1791.2,1891.8 L1806.2,1878.3 L1818.2,1869.3 L1833.2,1870.8 L1848.2,1876.8 L1866.3,1878.3 L1881.3,1881.3 L1908.3,1887.9 L1926.3,1889.7 L1944.3,1888.8" stroke="#4169e1" stroke-width="3.125" stroke-linecap="square"/>
<path d="M186.6,1771.7 L198.0,1771.7 L210.0,1768.1 L225.0,1767.8 L240.0,1764.2 L255.1,1759.7 L270.1,1756.7 L285.1,1752.2 L300.1,1744.7 L315.1,1737.2 L330.1,1728.2 L345.1,1719.2 L360.1,1710.8 L372.1,1707.2 L390.1,1696.7 L408.2,1687.6 L426.2,1681.6 L444.2,1675.6 L462.2,1672.6 L480.2,1671.1 L498.2,1669.9 L516.2,1670.5 L534.2,1672.6 L549.3,1675.6 L567.3,1680.7 L582.3,1684.6 L600.3,1688.5 L612.3,1692.1 L620.0,1698.2 L632.0,1707.2 L647.0,1709.6 L662.0,1710.2 L671.0,1719.2 L680.0,1752.2 L692.1,1767.2 L701.1,1780.7 L710.1,1776.2 L722.1,1762.7 L725.1,1776.2 L734.1,1785.2 L743.1,1791.2 L755.1,1789.7 L773.1,1786.7 L788.1,1788.2 L800.1,1779.2 L815.1,1783.7 L827.1,1786.7 L836.2,1765.7 L851.2,1750.7 L863.2,1737.2 L875.2,1725.2 L887.2,1710.2 L902.2,1695.2 L920.2,1686.1 L938.2,1678.6 L956.2,1674.7 L974.2,1672.6 L989.3,1672.6 L1007.3,1676.5 L1025.3,1683.1 L1043.3,1693.7 L1060.0,1705.7 L1072.0,1714.7 L1084.0,1719.2 L1102.0,1714.7 L1120.0,1708.7 L1129.0,1725.2 L1141.1,1755.2 L1150.1,1746.2 L1162.1,1749.2 L1171.1,1754.6 L1186.1,1749.2 L1204.1,1737.2 L1216.1,1729.7 L1228.1,1719.2 L1240.1,1713.2 L1249.1,1711.7 L1259.6,1725.2 L1276.2,1717.7 L1282.2,1725.2 L1291.2,1735.7 L1300.2,1737.8 L1312.2,1735.7 L1336.2,1734.2 L1360.2,1735.7 L1384.2,1736.6 L1408.2,1738.7 L1426.3,1735.7 L1450.3,1737.8 L1474.3,1739.6 L1486.3,1739.6 L1500.0,1744.7 L1518.0,1749.2 L1536.0,1752.2 L1554.0,1756.7 L1578.1,1756.7 L1590.1,1747.7 L1605.1,1737.2 L1618.6,1731.2 L1626.1,1740.2 L1638.1,1746.2 L1648.6,1743.2 L1656.1,1755.2 L1663.6,1759.7 L1680.1,1753.7 L1692.1,1758.2 L1710.1,1762.7 L1725.2,1767.2 L1740.2,1777.7 L1752.2,1768.7 L1764.2,1774.7 L1776.2,1770.2 L1791.2,1764.2 L1812.2,1761.2 L1830.2,1767.2 L1848.2,1769.6 L1875.3,1770.2 L1899.3,1771.7 L1920.3,1775.6 L1942.8,1773.2" stroke="#00ff7f" stroke-width="3.125" stroke-dasharray="11.56 5.0"/>
<path d="M186.6,1967.7 L201.0,1968.3 L210.0,1962.3 L225.0,1962.9 L240.0,1959.3 L258.1,1954.8 L276.1,1950.9 L291.1,1945.8 L306.1,1936.8 L321.1,1927.8 L336.1,1920.3 L351.1,1911.3 L360.1,1905.3 L372.1,1900.8 L384.1,1893.3 L399.2,1885.8 L414.2,1878.3 L432.2,1872.3 L444.2,1868.7 L462.2,1865.7 L480.2,1863.3 L498.2,1862.7 L516.2,1861.8 L534.2,1863.9 L549.3,1866.3 L567.3,1872.3 L582.3,1876.8 L594.3,1879.8 L606.3,1883.7 L620.0,1890.3 L635.0,1901.7 L650.0,1905.3 L659.0,1904.7 L669.5,1912.8 L678.5,1945.8 L692.1,1956.3 L701.1,1971.3 L710.1,1968.3 L722.1,1948.8 L725.1,1956.3 L731.1,1951.8 L740.1,1966.8 L746.1,1971.3 L752.1,1989.4 L764.1,1990.9 L776.1,1986.4 L788.1,1989.4 L800.1,1977.3 L815.1,1980.4 L825.6,1984.9 L833.1,1968.3 L848.2,1950.3 L863.2,1930.8 L872.2,1930.8 L881.2,1914.3 L896.2,1899.3 L914.2,1887.3 L932.2,1878.3 L956.2,1870.8 L974.2,1867.8 L989.3,1866.9 L1007.3,1872.3 L1028.3,1881.3 L1043.3,1890.3 L1060.0,1902.3 L1072.0,1911.3 L1085.5,1917.3 L1102.0,1911.3 L1121.5,1905.3 L1129.0,1920.3 L1135.1,1929.3 L1139.6,1945.8 L1147.1,1933.8 L1159.1,1932.3 L1171.1,1944.3 L1186.1,1936.8 L1198.1,1932.3 L1210.1,1923.3 L1222.1,1917.3 L1231.1,1911.3 L1243.1,1903.8 L1252.1,1911.3 L1259.6,1923.3 L1270.1,1915.8 L1276.2,1912.8 L1285.2,1926.3 L1294.2,1930.8 L1312.2,1930.8 L1336.2,1930.8 L1360.2,1932.3 L1384.2,1933.8 L1408.2,1935.3 L1435.3,1933.8 L1462.3,1936.8 L1486.3,1936.8 L1500.0,1942.8 L1518.0,1947.3 L1536.0,1948.8 L1554.0,1954.8 L1578.1,1954.8 L1590.1,1945.8 L1605.1,1933.8 L1619.5,1925.7 L1626.1,1933.8 L1638.1,1939.8 L1647.1,1933.8 L1656.1,1942.8 L1665.1,1951.8 L1680.1,1945.8 L1695.1,1948.8 L1710.1,1952.7 L1725.2,1959.3 L1740.2,1969.8 L1752.2,1962.3 L1764.2,1968.3 L1776.2,1962.3 L1791.2,1959.3 L1812.2,1956.3 L1830.2,1962.3 L1848.2,1965.3 L1875.3,1966.8 L1896.3,1967.7 L1917.3,1971.3 L1944.3,1968.3" stroke="#00ff7f" stroke-width="3.125" stroke-linecap="square"/>
<path d="M186.6,1819.7 L204.0,1810.7 L225.0,1803.2 L240.0,1798.7 L258.1,1792.7 L270.1,1788.8 L288.1,1785.2 L306.1,1780.7 L324.1,1777.7 L345.1,1775.6 L366.1,1773.2 L390.1,1771.7 L414.2,1770.2 L438.2,1767.2 L462.2,1767.2 L483.2,1768.7 L498.2,1767.8 L513.2,1770.8 L528.2,1774.7 L543.3,1780.7 L558.3,1789.7 L570.3,1797.2 L582.3,1809.2 L594.3,1824.2 L606.3,1840.8 L620.0,1852.8 L632.0,1859.7 L644.0,1851.3 L656.0,1830.2 L669.5,1804.7 L680.0,1809.2 L689.0,1809.2 L701.1,1809.8 L713.1,1804.7 L722.1,1803.2 L725.1,1816.7 L734.1,1818.2 L740.1,1821.2 L746.1,1809.2 L764.1,1807.7 L782.1,1804.7 L794.1,1801.7 L806.1,1795.7 L824.1,1791.2 L842.2,1780.7 L854.2,1773.2 L866.2,1777.7 L872.2,1782.2 L884.2,1773.2 L896.2,1762.7 L914.2,1759.7 L932.2,1761.2 L950.2,1765.7 L968.2,1773.2 L986.3,1782.2 L1004.3,1792.7 L1022.3,1807.7 L1040.3,1824.2 L1060.0,1833.2 L1072.0,1821.2 L1084.0,1806.2 L1096.0,1785.2 L1111.0,1767.2 L1121.5,1764.2 L1132.1,1771.7 L1136.6,1783.7 L1142.6,1794.2 L1150.1,1785.2 L1165.1,1791.2 L1177.1,1788.2 L1192.1,1779.2 L1207.1,1771.7 L1219.1,1767.2 L1231.1,1767.2 L1240.1,1779.2 L1252.1,1776.2 L1261.1,1765.7 L1270.1,1743.2 L1276.2,1740.2 L1282.2,1743.2 L1291.2,1759.7 L1300.2,1773.2 L1312.2,1779.2 L1324.2,1780.7 L1342.2,1795.7 L1357.2,1804.7 L1372.2,1814.6 L1390.2,1817.6 L1408.2,1818.2 L1426.3,1824.2 L1450.3,1830.2 L1468.3,1836.3 L1486.3,1837.8 L1500.0,1837.8 L1518.0,1834.7 L1536.0,1828.7 L1554.0,1827.2 L1578.1,1819.7 L1590.1,1810.7 L1605.1,1791.2 L1618.6,1777.7 L1632.1,1782.2 L1647.1,1770.2 L1656.1,1776.2 L1668.1,1782.2 L1680.1,1785.2 L1692.1,1792.7 L1710.1,1801.7 L1722.2,1812.2 L1734.2,1821.8 L1746.2,1813.7 L1755.2,1815.2 L1764.2,1830.2 L1776.2,1821.2 L1788.2,1819.7 L1800.2,1822.7 L1812.2,1833.2 L1827.2,1842.3 L1845.2,1842.9 L1866.3,1840.8 L1887.3,1836.3 L1905.3,1832.6 L1926.3,1824.2 L1942.8,1819.7" stroke="#ffd700" stroke-width="3.125" stroke-dasharray="11.56 5.0"/>
<path d="M186.6,1990.9 L198.0,1987.0 L210.0,1981.9 L225.0,1976.7 L240.0,1972.2 L255.1,1966.8 L270.1,1960.8 L285.1,1956.3 L300.1,1951.8 L315.1,1947.9 L327.1,1944.9 L345.1,1943.7 L360.1,1941.9 L378.1,1939.8 L396.2,1938.9 L414.2,1935.9 L432.2,1932.9 L450.2,1931.7 L468.2,1931.7 L483.2,1932.3 L495.2,1930.8 L507.2,1932.3 L522.2,1936.8 L534.2,1939.8 L546.3,1945.8 L561.3,1953.3 L573.3,1965.3 L585.3,1980.4 L600.3,1998.4 L612.3,2011.9 L620.0,2022.4 L632.0,2031.4 L644.0,2022.4 L656.0,2001.4 L669.5,1974.3 L680.0,1966.8 L692.1,1965.3 L701.1,1971.3 L710.1,1968.3 L722.1,1963.8 L725.1,1971.3 L731.1,1963.8 L738.6,1975.8 L746.1,1971.3 L758.1,1986.4 L770.1,1986.4 L788.1,1980.4 L800.1,1968.3 L812.1,1962.3 L827.1,1956.3 L836.2,1948.8 L851.2,1938.3 L863.2,1938.3 L872.2,1951.8 L881.2,1944.3 L893.2,1938.3 L902.2,1930.8 L920.2,1927.8 L938.2,1929.3 L959.2,1935.3 L980.3,1947.3 L1001.3,1962.3 L1019.3,1980.4 L1034.3,1995.4 L1049.3,2007.4 L1060.0,2019.4 L1072.0,2013.4 L1084.0,1998.4 L1096.0,1983.4 L1111.0,1965.3 L1121.5,1963.8 L1126.0,1968.9 L1132.1,1963.8 L1139.6,1975.8 L1147.1,1965.3 L1159.1,1968.3 L1168.1,1972.8 L1180.1,1963.8 L1192.1,1950.3 L1204.1,1936.8 L1210.1,1926.3 L1222.1,1927.8 L1231.1,1932.3 L1240.1,1944.3 L1252.1,1941.3 L1259.6,1932.3 L1267.1,1914.3 L1276.2,1909.8 L1285.2,1917.3 L1294.2,1935.3 L1300.2,1944.3 L1307.7,1951.8 L1315.2,1948.8 L1333.2,1957.8 L1348.2,1972.8 L1366.2,1983.4 L1384.2,1987.9 L1402.2,1988.8 L1420.3,1993.9 L1435.3,1998.4 L1450.3,2001.4 L1468.3,2007.4 L1486.3,2008.9 L1500.0,2010.4 L1518.0,2005.9 L1539.0,1999.9 L1554.0,1997.8 L1578.1,1992.4 L1590.1,1980.4 L1605.1,1960.8 L1619.5,1944.3 L1632.1,1947.3 L1647.1,1930.8 L1653.1,1941.3 L1656.1,1935.3 L1665.1,1942.8 L1680.1,1941.3 L1689.1,1950.3 L1701.1,1951.8 L1713.1,1959.3 L1722.2,1969.8 L1734.2,1983.4 L1743.2,1983.4 L1752.2,1974.3 L1764.2,1993.9 L1776.2,1987.9 L1788.2,1984.9 L1800.2,1993.9 L1809.2,2003.8 L1827.2,2011.9 L1848.2,2012.8 L1869.3,2010.4 L1890.3,2007.4 L1908.3,2002.9 L1926.3,1996.9 L1944.3,1992.4" stroke="#ffd700" stroke-width="3.125" stroke-linecap="square"/>
<path d="M186.6,1637.5 L198.0,1635.1 L210.0,1629.1 L225.0,1622.5 L240.0,1616.5 L252.1,1608.7 L267.1,1601.5 L282.1,1594.6 L297.1,1587.7 L312.1,1582.6 L327.1,1578.1 L342.1,1575.1 L360.1,1572.1 L378.1,1569.1 L396.2,1563.7 L414.2,1556.5 L432.2,1551.1 L450.2,1547.4 L465.2,1545.6 L486.2,1545.9 L504.2,1549.5 L519.2,1555.6 L534.2,1564.6 L546.3,1575.1 L558.3,1587.1 L570.3,1601.5 L582.3,1617.1 L594.3,1635.1 L606.3,1650.1 L620.0,1666.6 L635.0,1674.1 L647.0,1665.1 L659.0,1644.1 L669.5,1619.5 L678.5,1629.1 L692.1,1648.6 L702.6,1653.1 L713.1,1647.1 L721.5,1641.1 L725.1,1659.1 L732.6,1671.1 L738.6,1678.6 L746.1,1671.1 L758.1,1665.1 L770.1,1665.1 L782.1,1665.7 L794.1,1665.7 L806.1,1660.6 L818.1,1659.1 L830.1,1656.1 L842.2,1638.1 L854.2,1620.1 L866.2,1599.1 L878.2,1585.6 L887.2,1572.1 L899.2,1561.6 L911.2,1560.1 L929.2,1564.6 L947.2,1576.6 L965.2,1591.6 L980.3,1605.1 L998.3,1618.0 L1013.3,1624.6 L1028.3,1625.5 L1043.3,1620.1 L1060.0,1609.6 L1072.0,1596.1 L1084.0,1582.6 L1096.0,1569.1 L1105.0,1565.5 L1114.0,1567.6 L1123.0,1572.1 L1132.1,1599.1 L1139.6,1668.1 L1147.1,1659.1 L1156.1,1668.1 L1168.1,1675.6 L1180.1,1674.1 L1192.1,1668.1 L1204.1,1653.1 L1210.1,1635.1 L1222.1,1617.1 L1234.1,1587.1 L1246.1,1569.1 L1258.1,1563.1 L1267.1,1549.5 L1276.2,1537.5 L1282.2,1552.6 L1288.2,1569.1 L1297.2,1572.1 L1306.2,1567.6 L1315.2,1563.7 L1330.2,1566.7 L1348.2,1575.1 L1366.2,1584.1 L1384.2,1590.1 L1399.2,1593.1 L1417.3,1602.1 L1432.3,1605.1 L1447.3,1605.1 L1465.3,1599.1 L1480.3,1599.1 L1500.0,1600.6 L1518.0,1604.5 L1536.0,1611.1 L1551.0,1617.7 L1572.1,1615.6 L1590.1,1602.1 L1602.1,1588.6 L1612.6,1572.1 L1619.5,1563.7 L1626.1,1575.1 L1635.1,1581.1 L1647.1,1573.6 L1653.1,1581.1 L1662.1,1588.6 L1674.1,1596.1 L1686.1,1605.1 L1692.1,1605.1 L1704.1,1620.1 L1719.2,1626.1 L1731.2,1632.1 L1743.2,1635.1 L1752.2,1624.6 L1764.2,1636.6 L1776.2,1623.1 L1788.2,1611.1 L1800.2,1610.5 L1815.2,1614.1 L1830.2,1620.1 L1848.2,1625.5 L1863.3,1627.6 L1878.3,1632.1 L1890.3,1639.6 L1911.3,1643.5 L1926.3,1641.1 L1942.8,1638.1" stroke="#ff8c00" stroke-width="3.125" stroke-dasharray="11.56 5.0"/>
<path d="M186.6,1860.3 L195.0,1857.9 L204.0,1854.9 L216.0,1848.9 L228.0,1843.8 L240.0,1838.7 L255.1,1828.7 L270.1,1821.8 L282.1,1816.7 L294.1,1809.2 L309.1,1804.7 L324.1,1798.7 L336.1,1795.7 L348.1,1793.6 L360.1,1790.6 L375.1,1786.7 L390.1,1781.6 L408.2,1774.7 L426.2,1768.7 L444.2,1763.6 L459.2,1758.8 L474.2,1758.8 L486.2,1757.6 L504.2,1761.2 L522.2,1769.6 L537.3,1779.2 L552.3,1794.2 L567.3,1812.2 L579.3,1830.2 L591.3,1848.3 L603.3,1866.3 L620.0,1887.3 L635.0,1898.7 L647.0,1887.3 L659.0,1863.3 L668.0,1840.8 L678.5,1848.3 L686.0,1846.8 L692.1,1852.8 L699.6,1866.3 L710.1,1866.3 L722.1,1852.8 L725.1,1866.3 L731.1,1861.8 L737.1,1881.3 L743.1,1881.3 L752.1,1911.3 L761.1,1917.3 L773.1,1919.4 L791.1,1917.3 L803.1,1905.3 L815.1,1899.3 L827.1,1897.8 L833.1,1882.8 L845.2,1860.3 L857.2,1839.3 L866.2,1821.2 L875.2,1812.2 L887.2,1796.6 L902.2,1786.7 L914.2,1785.2 L929.2,1791.2 L944.2,1801.7 L962.2,1818.2 L980.3,1836.3 L1001.3,1855.8 L1016.3,1863.3 L1028.3,1864.8 L1040.3,1863.9 L1052.3,1857.3 L1060.0,1851.3 L1072.0,1837.8 L1084.0,1824.2 L1096.0,1807.7 L1106.5,1801.7 L1117.0,1806.2 L1123.0,1810.7 L1132.1,1839.3 L1136.6,1860.3 L1141.1,1894.8 L1150.1,1881.3 L1159.1,1890.3 L1168.1,1902.3 L1180.1,1905.3 L1192.1,1899.3 L1201.1,1888.8 L1207.1,1875.3 L1213.1,1857.3 L1223.6,1839.3 L1231.1,1827.2 L1240.1,1806.2 L1252.1,1795.7 L1258.1,1794.2 L1267.1,1776.2 L1276.2,1767.8 L1282.2,1776.2 L1288.2,1795.7 L1300.2,1795.7 L1307.7,1792.7 L1315.2,1786.7 L1330.2,1789.7 L1348.2,1797.2 L1366.2,1806.2 L1384.2,1813.7 L1402.2,1818.2 L1420.3,1825.7 L1441.3,1828.7 L1453.3,1827.2 L1468.3,1821.2 L1483.3,1823.6 L1500.0,1825.7 L1518.0,1828.7 L1536.0,1836.3 L1551.0,1843.8 L1572.1,1843.8 L1587.1,1831.7 L1596.1,1821.2 L1605.1,1804.7 L1619.5,1783.7 L1626.1,1792.7 L1635.1,1797.2 L1647.1,1789.7 L1653.1,1798.7 L1662.1,1806.2 L1680.1,1816.7 L1692.1,1827.2 L1707.1,1840.8 L1722.2,1843.8 L1740.2,1855.8 L1752.2,1843.8 L1764.2,1855.8 L1776.2,1839.3 L1788.2,1830.2 L1803.2,1830.2 L1815.2,1836.3 L1830.2,1842.3 L1845.2,1845.3 L1860.3,1849.8 L1878.3,1853.7 L1896.3,1860.9 L1911.3,1864.8 L1926.3,1863.3 L1944.3,1860.3" stroke="#ff8c00" stroke-width="3.125" stroke-linecap="square"/>
</g>
<rect x="100.2" y="1478.7" width="1930.70" height="580.20" fill="none" stroke="#000" stroke-width="1.67"/>
<line x1="333.90" y1="2058.9" x2="333.90" y2="2066.20" stroke="#000" stroke-width="1.67"/>
<text x="333.90" y="2089.50" font-size="20.83" text-anchor="middle" textLength="57.22" lengthAdjust="spacingAndGlyphs">−150</text>
<line x1="578.25" y1="2058.9" x2="578.25" y2="2066.20" stroke="#000" stroke-width="1.67"/>
<text x="578.25" y="2089.50" font-size="20.83" text-anchor="middle" textLength="57.22" lengthAdjust="spacingAndGlyphs">−100</text>
<line x1="822.60" y1="2058.9" x2="822.60" y2="2066.20" stroke="#000" stroke-width="1.67"/>
<text x="822.60" y="2089.50" font-size="20.83" text-anchor="middle" textLength="43.97" lengthAdjust="spacingAndGlyphs">−50</text>
<line x1="1066.95" y1="2058.9" x2="1066.95" y2="2066.20" stroke="#000" stroke-width="1.67"/>
<text x="1066.95" y="2089.50" font-size="20.83" text-anchor="middle" textLength="13.25" lengthAdjust="spacingAndGlyphs">0</text>
<line x1="1311.30" y1="2058.9" x2="1311.30" y2="2066.20" stroke="#000" stroke-width="1.67"/>
<text x="1311.30" y="2089.50" font-size="20.83" text-anchor="middle" textLength="26.51" lengthAdjust="spacingAndGlyphs">50</text>
<line x1="1555.65" y1="2058.9" x2="1555.65" y2="2066.20" stroke="#000" stroke-width="1.67"/>
<text x="1555.65" y="2089.50" font-size="20.83" text-anchor="middle" textLength="39.76" lengthAdjust="spacingAndGlyphs">100</text>
<line x1="1800.00" y1="2058.9" x2="1800.00" y2="2066.20" stroke="#000" stroke-width="1.67"/>
<text x="1800.00" y="2089.50" font-size="20.83" text-anchor="middle" textLength="39.76" lengthAdjust="spacingAndGlyphs">150</text>
<line x1="92.90" y1="2055.00" x2="100.2" y2="2055.00" stroke="#000" stroke-width="1.67"/>
<text x="85.60" y="2063.20" font-size="20.83" text-anchor="end" textLength="39.76" lengthAdjust="spacingAndGlyphs">150</text>
<line x1="92.90" y1="1935.72" x2="100.2" y2="1935.72" stroke="#000" stroke-width="1.67"/>
<text x="85.60" y="1943.92" font-size="20.83" text-anchor="end" textLength="39.76" lengthAdjust="spacingAndGlyphs">200</text>
<line x1="92.90" y1="1816.44" x2="100.2" y2="1816.44" stroke="#000" stroke-width="1.67"/>
<text x="85.60" y="1824.64" font-size="20.83" text-anchor="end" textLength="39.76" lengthAdjust="spacingAndGlyphs">250</text>
<line x1="92.90" y1="1697.16" x2="100.2" y2="1697.16" stroke="#000" stroke-width="1.67"/>
<text x="85.60" y="1705.36" font-size="20.83" text-anchor="end" textLength="39.76" lengthAdjust="spacingAndGlyphs">300</text>
<line x1="92.90" y1="1577.88" x2="100.2" y2="1577.88" stroke="#000" stroke-width="1.67"/>
<text x="85.60" y="1586.08" font-size="20.83" text-anchor="end" textLength="39.76" lengthAdjust="spacingAndGlyphs">350</text>
<text x="1065.50" y="1466.90" font-size="27.08" text-anchor="middle" textLength="965.73" lengthAdjust="spacingAndGlyphs">Zonal Mean SWTNT and SWGNT by Longitude — Equator–Hadley South</text>
<text x="31.80" y="1769.70" font-size="20.83" text-anchor="middle" textLength="226.74" lengthAdjust="spacingAndGlyphs" transform="rotate(-90 31.80 1769.70)">Radiative Flux (W/m²)</text>
<rect x="1149.8" y="1490.5" width="870.40" height="65.70" rx="4.2" ry="4.2" fill="#fff" fill-opacity="0.8" stroke="#ccc" stroke-opacity="0.8" stroke-width="2.08"/>
<line x1="1158.20" y1="1507.3" x2="1199.87" y2="1507.3" stroke="#4169e1" stroke-width="3.125" stroke-dasharray="11.56 5.0"/>
<line x1="1158.20" y1="1537.3" x2="1199.87" y2="1537.3" stroke="#4169e1" stroke-width="3.125"/>
<text x="1217.60" y="1514.50" font-size="20.83" text-anchor="start" textLength="115.65" lengthAdjust="spacingAndGlyphs">SWTNT DJF</text>
<text x="1217.60" y="1544.50" font-size="20.83" text-anchor="start" textLength="119.07" lengthAdjust="spacingAndGlyphs">SWGNT DJF</text>
<line x1="1377.28" y1="1507.3" x2="1418.95" y2="1507.3" stroke="#00ff7f" stroke-width="3.125" stroke-dasharray="11.56 5.0"/>
<line x1="1377.28" y1="1537.3" x2="1418.95" y2="1537.3" stroke="#00ff7f" stroke-width="3.125"/>
<text x="1436.68" y="1514.50" font-size="20.83" text-anchor="start" textLength="131.68" lengthAdjust="spacingAndGlyphs">SWTNT MAM</text>
<text x="1436.68" y="1544.50" font-size="20.83" text-anchor="start" textLength="135.10" lengthAdjust="spacingAndGlyphs">SWGNT MAM</text>
<line x1="1612.39" y1="1507.3" x2="1654.06" y2="1507.3" stroke="#ffd700" stroke-width="3.125" stroke-dasharray="11.56 5.0"/>
<line x1="1612.39" y1="1537.3" x2="1654.06" y2="1537.3" stroke="#ffd700" stroke-width="3.125"/>
<text x="1671.79" y="1514.50" font-size="20.83" text-anchor="start" textLength="107.66" lengthAdjust="spacingAndGlyphs">SWTNT JJA</text>
<text x="1671.79" y="1544.50" font-size="20.83" text-anchor="start" textLength="111.07" lengthAdjust="spacingAndGlyphs">SWGNT JJA</text>
<line x1="1823.48" y1="1507.3" x2="1865.15" y2="1507.3" stroke="#ff8c00" stroke-width="3.125" stroke-dasharray="11.56 5.0"/>
<line x1="1823.48" y1="1537.3" x2="1865.15" y2="1537.3" stroke="#ff8c00" stroke-width="3.125"/>
<text x="1882.88" y="1514.50" font-size="20.83" text-anchor="start" textLength="126.69" lengthAdjust="spacingAndGlyphs">SWTNT SON</text>
<text x="1882.88" y="1544.50" font-size="20.83" text-anchor="start" textLength="130.11" lengthAdjust="spacingAndGlyphs">SWGNT SON</text>
</svg></body></html>
